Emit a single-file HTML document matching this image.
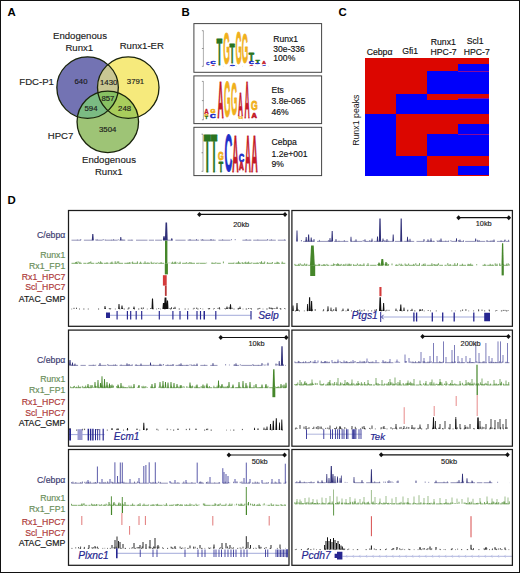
<!DOCTYPE html>
<html><head><meta charset="utf-8"><style>
html,body{margin:0;padding:0;background:#fff;width:520px;height:573px;overflow:hidden}
svg{display:block}
text{font-family:"Liberation Sans",sans-serif}
</style></head><body>
<svg width="520" height="573" viewBox="0 0 520 573">
<rect width="520" height="573" fill="#fff"/>
<rect x="0.5" y="0.5" width="519" height="572" fill="none" stroke="#111" stroke-width="1"/>
<text x="7.6" y="16.25" font-size="11.4" font-weight="bold" fill="#000">A</text>
<text x="181.4" y="16.25" font-size="11.4" font-weight="bold" fill="#000">B</text>
<text x="338.4" y="16.4" font-size="11.4" font-weight="bold" fill="#000">C</text>
<text x="7.4" y="203.7" font-size="11.4" font-weight="bold" fill="#000">D</text>
<defs><clipPath id="cB"><circle cx="87.6" cy="87.6" r="30.75"/></clipPath><clipPath id="cY"><circle cx="128.25" cy="87.6" r="30.75"/></clipPath><clipPath id="cG"><circle cx="107.8" cy="121.8" r="30.75"/></clipPath></defs>
<circle cx="87.6" cy="87.6" r="30.75" fill="#7373b3"/>
<circle cx="128.25" cy="87.6" r="30.75" fill="#f6ea7c"/>
<circle cx="107.8" cy="121.8" r="30.75" fill="#9ec476"/>
<g clip-path="url(#cB)"><circle cx="128.25" cy="87.6" r="30.75" fill="#c9c793"/></g>
<g clip-path="url(#cB)"><circle cx="107.8" cy="121.8" r="30.75" fill="#7bbb83"/></g>
<g clip-path="url(#cY)"><circle cx="107.8" cy="121.8" r="30.75" fill="#a9cd5c"/></g>
<g clip-path="url(#cB)"><g clip-path="url(#cY)"><circle cx="107.8" cy="121.8" r="30.75" fill="#88c163"/></g></g>
<circle cx="87.6" cy="87.6" r="30.75" fill="none" stroke="#1a240c" stroke-width="1.3"/>
<circle cx="128.25" cy="87.6" r="30.75" fill="none" stroke="#1a240c" stroke-width="1.3"/>
<circle cx="107.8" cy="121.8" r="30.75" fill="none" stroke="#1a240c" stroke-width="1.3"/>
<text x="80" y="39.25" font-size="9.6" fill="#222" stroke="#222" stroke-width="0.15" text-anchor="middle" >Endogenous</text>
<text x="79.3" y="50.75" font-size="9.6" fill="#222" stroke="#222" stroke-width="0.15" text-anchor="middle" >Runx1</text>
<text x="141.8" y="49.25" font-size="9.6" fill="#222" stroke="#222" stroke-width="0.15" text-anchor="middle" >Runx1-ER</text>
<text x="36.6" y="84.5" font-size="9.6" fill="#222" stroke="#222" stroke-width="0.15" text-anchor="middle" >FDC-P1</text>
<text x="60.6" y="138.75" font-size="9.6" fill="#222" stroke="#222" stroke-width="0.15" text-anchor="middle" >HPC7</text>
<text x="109" y="163" font-size="9.6" fill="#222" stroke="#222" stroke-width="0.15" text-anchor="middle" >Endogenous</text>
<text x="108.8" y="175" font-size="9.6" fill="#222" stroke="#222" stroke-width="0.15" text-anchor="middle" >Runx1</text>
<text x="81" y="83.75" font-size="7.8" fill="#1a1a1a" stroke="#1a1a1a" stroke-width="0.15" text-anchor="middle" >640</text>
<text x="108.7" y="84.5" font-size="7.8" fill="#1a1a1a" stroke="#1a1a1a" stroke-width="0.15" text-anchor="middle" >1430</text>
<text x="135.5" y="83.75" font-size="7.8" fill="#1a1a1a" stroke="#1a1a1a" stroke-width="0.15" text-anchor="middle" >3791</text>
<text x="107.9" y="100.5" font-size="7.8" fill="#1a1a1a" stroke="#1a1a1a" stroke-width="0.15" text-anchor="middle" >857</text>
<text x="91" y="110.75" font-size="7.8" fill="#1a1a1a" stroke="#1a1a1a" stroke-width="0.15" text-anchor="middle" >594</text>
<text x="124.6" y="110.75" font-size="7.8" fill="#1a1a1a" stroke="#1a1a1a" stroke-width="0.15" text-anchor="middle" >248</text>
<text x="107.7" y="132" font-size="7.8" fill="#1a1a1a" stroke="#1a1a1a" stroke-width="0.15" text-anchor="middle" >3504</text>
<rect x="193.9" y="23.6" width="127.70000000000002" height="48.699999999999996" fill="#fff" stroke="#444" stroke-width="1"/>
<rect x="193.9" y="75.9" width="127.70000000000002" height="47.69999999999999" fill="#fff" stroke="#444" stroke-width="1"/>
<rect x="193.9" y="127.3" width="127.70000000000002" height="48.3" fill="#fff" stroke="#444" stroke-width="1"/>
<text x="273.3" y="41.6" font-size="8.6" fill="#111" stroke="#111" stroke-width="0.15" text-anchor="start" >Runx1</text>
<text x="273.3" y="51.5" font-size="8.6" fill="#111" stroke="#111" stroke-width="0.15" text-anchor="start" >30e-336</text>
<text x="273.3" y="61.2" font-size="8.6" fill="#111" stroke="#111" stroke-width="0.15" text-anchor="start" >100%</text>
<text x="271.5" y="92.6" font-size="8.6" fill="#111" stroke="#111" stroke-width="0.15" text-anchor="start" >Ets</text>
<text x="271.5" y="103.8" font-size="8.6" fill="#111" stroke="#111" stroke-width="0.15" text-anchor="start" >3.8e-065</text>
<text x="271.5" y="114.8" font-size="8.6" fill="#111" stroke="#111" stroke-width="0.15" text-anchor="start" >46%</text>
<text x="271.5" y="144.6" font-size="8.6" fill="#111" stroke="#111" stroke-width="0.15" text-anchor="start" >Cebpa</text>
<text x="271.5" y="156.8" font-size="8.6" fill="#111" stroke="#111" stroke-width="0.15" text-anchor="start" >1.2e+001</text>
<text x="271.5" y="167.2" font-size="8.6" fill="#111" stroke="#111" stroke-width="0.15" text-anchor="start" >9%</text>
<path d="M203.4 30.7 V66.3" stroke="#777" stroke-width="0.6" fill="none"/>
<path d="M203.4 66.3 H270" stroke="#aaa" stroke-width="0.4" stroke-dasharray="0.6 5.9" fill="none"/>
<path d="M201.9 30.7 H203.4" stroke="#555" stroke-width="0.6"/>
<path d="M201.9 48.5 H203.4" stroke="#555" stroke-width="0.6"/>
<path d="M201.9 66.3 H203.4" stroke="#555" stroke-width="0.6"/>
<text transform="translate(206.30,65.30) scale(0.0436,0.0275)" font-size="100" font-weight="bold" fill="#1f2fc8" stroke="#1f2fc8" stroke-width="0.35" vector-effect="non-scaling-stroke" stroke-linejoin="round">C</text>
<text transform="translate(210.56,63.62) scale(0.0704,0.0325)" font-size="100" font-weight="bold" fill="#1f2fc8" stroke="#1f2fc8" stroke-width="0.7" vector-effect="non-scaling-stroke" stroke-linejoin="round">C</text>
<text transform="translate(211.56,65.83) scale(0.0470,0.0240)" font-size="100" font-weight="bold" fill="#c41a28" stroke="#c41a28" stroke-width="0.35" vector-effect="non-scaling-stroke" stroke-linejoin="round">A</text>
<text transform="translate(216.54,64.95) scale(0.0951,0.3779)" font-size="100" font-weight="bold" fill="#2a7420" stroke="#2a7420" stroke-width="0.7" vector-effect="non-scaling-stroke" stroke-linejoin="round">T</text>
<text transform="translate(223.30,64.22) scale(0.0860,0.4379)" font-size="100" font-weight="bold" fill="#f0b01c" stroke="#f0b01c" stroke-width="0.7" vector-effect="non-scaling-stroke" stroke-linejoin="round">G</text>
<text transform="translate(229.55,63.25) scale(0.0866,0.2762)" font-size="100" font-weight="bold" fill="#2a7420" stroke="#2a7420" stroke-width="0.7" vector-effect="non-scaling-stroke" stroke-linejoin="round">T</text>
<text transform="translate(229.88,65.63) scale(0.0658,0.0240)" font-size="100" font-weight="bold" fill="#1f2fc8" stroke="#1f2fc8" stroke-width="0.7" vector-effect="non-scaling-stroke" stroke-linejoin="round">C</text>
<text transform="translate(235.62,64.20) scale(0.0815,0.4590)" font-size="100" font-weight="bold" fill="#f0b01c" stroke="#f0b01c" stroke-width="0.7" vector-effect="non-scaling-stroke" stroke-linejoin="round">G</text>
<text transform="translate(241.81,62.73) scale(0.0830,0.4308)" font-size="100" font-weight="bold" fill="#f0b01c" stroke="#f0b01c" stroke-width="0.7" vector-effect="non-scaling-stroke" stroke-linejoin="round">G</text>
<text transform="translate(248.75,61.15) scale(0.0866,0.1134)" font-size="100" font-weight="bold" fill="#2a7420" stroke="#2a7420" stroke-width="0.7" vector-effect="non-scaling-stroke" stroke-linejoin="round">T</text>
<text transform="translate(249.08,63.62) scale(0.0658,0.0297)" font-size="100" font-weight="bold" fill="#1f2fc8" stroke="#1f2fc8" stroke-width="0.7" vector-effect="non-scaling-stroke" stroke-linejoin="round">C</text>
<text transform="translate(249.54,65.83) scale(0.0544,0.0240)" font-size="100" font-weight="bold" fill="#c41a28" stroke="#c41a28" stroke-width="0.35" vector-effect="non-scaling-stroke" stroke-linejoin="round">A</text>
<text transform="translate(255.57,62.65) scale(0.0696,0.0436)" font-size="100" font-weight="bold" fill="#2a7420" stroke="#2a7420" stroke-width="0.7" vector-effect="non-scaling-stroke" stroke-linejoin="round">T</text>
<text transform="translate(255.08,64.43) scale(0.0658,0.0212)" font-size="100" font-weight="bold" fill="#1f2fc8" stroke="#1f2fc8" stroke-width="0.7" vector-effect="non-scaling-stroke" stroke-linejoin="round">C</text>
<text transform="translate(262.04,64.33) scale(0.0544,0.0342)" font-size="100" font-weight="bold" fill="#c41a28" stroke="#c41a28" stroke-width="0.35" vector-effect="non-scaling-stroke" stroke-linejoin="round">A</text>
<text transform="translate(262.51,65.81) scale(0.0405,0.0162)" font-size="100" font-weight="bold" fill="#1f2fc8" stroke="#1f2fc8" stroke-width="0.35" vector-effect="non-scaling-stroke" stroke-linejoin="round">C</text>
<path d="M203.4 81.4 V119.8" stroke="#777" stroke-width="0.6" fill="none"/>
<path d="M203.4 119.8 H262" stroke="#aaa" stroke-width="0.4" stroke-dasharray="0.6 5.9" fill="none"/>
<path d="M201.9 81.4 H203.4" stroke="#555" stroke-width="0.6"/>
<path d="M201.9 100.6 H203.4" stroke="#555" stroke-width="0.6"/>
<path d="M201.9 119.8 H203.4" stroke="#555" stroke-width="0.6"/>
<text transform="translate(204.22,114.03) scale(0.0619,0.0705)" font-size="100" font-weight="bold" fill="#c41a28" stroke="#c41a28" stroke-width="0.35" vector-effect="non-scaling-stroke" stroke-linejoin="round">A</text>
<text transform="translate(204.45,116.79) scale(0.0541,0.0346)" font-size="100" font-weight="bold" fill="#f0b01c" stroke="#f0b01c" stroke-width="0.35" vector-effect="non-scaling-stroke" stroke-linejoin="round">G</text>
<text transform="translate(205.12,119.33) scale(0.0450,0.0313)" font-size="100" font-weight="bold" fill="#2a7420" stroke="#2a7420" stroke-width="0.35" vector-effect="non-scaling-stroke" stroke-linejoin="round">T</text>
<text transform="translate(210.59,113.09) scale(0.0637,0.0607)" font-size="100" font-weight="bold" fill="#f0b01c" stroke="#f0b01c" stroke-width="0.7" vector-effect="non-scaling-stroke" stroke-linejoin="round">G</text>
<text transform="translate(210.02,118.00) scale(0.0811,0.0494)" font-size="100" font-weight="bold" fill="#1f2fc8" stroke="#1f2fc8" stroke-width="0.7" vector-effect="non-scaling-stroke" stroke-linejoin="round">C</text>
<text transform="translate(217.54,118.35) scale(0.0850,0.5247)" font-size="100" font-weight="bold" fill="#c41a28" stroke="#c41a28" stroke-width="0.7" vector-effect="non-scaling-stroke" stroke-linejoin="round">A</text>
<text transform="translate(224.00,117.47) scale(0.0845,0.4915)" font-size="100" font-weight="bold" fill="#f0b01c" stroke="#f0b01c" stroke-width="0.7" vector-effect="non-scaling-stroke" stroke-linejoin="round">G</text>
<text transform="translate(231.02,115.40) scale(0.0815,0.4562)" font-size="100" font-weight="bold" fill="#f0b01c" stroke="#f0b01c" stroke-width="0.7" vector-effect="non-scaling-stroke" stroke-linejoin="round">G</text>
<text transform="translate(238.08,116.25) scale(0.0686,0.3314)" font-size="100" font-weight="bold" fill="#c41a28" stroke="#c41a28" stroke-width="0.7" vector-effect="non-scaling-stroke" stroke-linejoin="round">A</text>
<text transform="translate(238.44,118.60) scale(0.0585,0.0261)" font-size="100" font-weight="bold" fill="#f0b01c" stroke="#f0b01c" stroke-width="0.35" vector-effect="non-scaling-stroke" stroke-linejoin="round">G</text>
<text transform="translate(244.47,118.35) scale(0.0715,0.5189)" font-size="100" font-weight="bold" fill="#c41a28" stroke="#c41a28" stroke-width="0.7" vector-effect="non-scaling-stroke" stroke-linejoin="round">A</text>
<text transform="translate(250.90,110.13) scale(0.0860,0.1271)" font-size="100" font-weight="bold" fill="#f0b01c" stroke="#f0b01c" stroke-width="0.7" vector-effect="non-scaling-stroke" stroke-linejoin="round">G</text>
<text transform="translate(251.46,118.35) scale(0.0745,0.0785)" font-size="100" font-weight="bold" fill="#c41a28" stroke="#c41a28" stroke-width="0.7" vector-effect="non-scaling-stroke" stroke-linejoin="round">A</text>
<path d="M203.0 134.2 V171.3" stroke="#777" stroke-width="0.6" fill="none"/>
<path d="M203.0 171.3 H262" stroke="#aaa" stroke-width="0.4" stroke-dasharray="0.6 5.9" fill="none"/>
<path d="M201.5 134.2 H203.0" stroke="#555" stroke-width="0.6"/>
<path d="M201.5 152.75 H203.0" stroke="#555" stroke-width="0.6"/>
<path d="M201.5 171.3 H203.0" stroke="#555" stroke-width="0.6"/>
<text transform="translate(203.72,171.65) scale(0.1155,0.5363)" font-size="100" font-weight="bold" fill="#2a7420" stroke="#2a7420" stroke-width="0.7" vector-effect="non-scaling-stroke" stroke-linejoin="round">T</text>
<text transform="translate(210.63,171.65) scale(0.1070,0.5363)" font-size="100" font-weight="bold" fill="#2a7420" stroke="#2a7420" stroke-width="0.7" vector-effect="non-scaling-stroke" stroke-linejoin="round">T</text>
<text transform="translate(217.95,160.15) scale(0.0741,0.1017)" font-size="100" font-weight="bold" fill="#f0b01c" stroke="#f0b01c" stroke-width="0.7" vector-effect="non-scaling-stroke" stroke-linejoin="round">G</text>
<text transform="translate(218.67,171.65) scale(0.0713,0.1453)" font-size="100" font-weight="bold" fill="#2a7420" stroke="#2a7420" stroke-width="0.7" vector-effect="non-scaling-stroke" stroke-linejoin="round">T</text>
<text transform="translate(224.50,171.15) scale(0.1086,0.5127)" font-size="100" font-weight="bold" fill="#1f2fc8" stroke="#1f2fc8" stroke-width="0.7" vector-effect="non-scaling-stroke" stroke-linejoin="round">C</text>
<text transform="translate(232.13,171.65) scale(0.0879,0.5247)" font-size="100" font-weight="bold" fill="#c41a28" stroke="#c41a28" stroke-width="0.7" vector-effect="non-scaling-stroke" stroke-linejoin="round">A</text>
<text transform="translate(238.64,161.54) scale(0.0765,0.1130)" font-size="100" font-weight="bold" fill="#1f2fc8" stroke="#1f2fc8" stroke-width="0.7" vector-effect="non-scaling-stroke" stroke-linejoin="round">C</text>
<text transform="translate(239.08,170.15) scale(0.0671,0.1061)" font-size="100" font-weight="bold" fill="#c41a28" stroke="#c41a28" stroke-width="0.7" vector-effect="non-scaling-stroke" stroke-linejoin="round">A</text>
<text transform="translate(244.95,171.65) scale(0.0805,0.5247)" font-size="100" font-weight="bold" fill="#c41a28" stroke="#c41a28" stroke-width="0.7" vector-effect="non-scaling-stroke" stroke-linejoin="round">A</text>
<text transform="translate(251.33,171.65) scale(0.0894,0.5247)" font-size="100" font-weight="bold" fill="#c41a28" stroke="#c41a28" stroke-width="0.7" vector-effect="non-scaling-stroke" stroke-linejoin="round">A</text>
<g shape-rendering="crispEdges">
<rect x="364.7" y="57.6" width="124.30" height="118.40" fill="#dc0600"/>
<rect x="364.7" y="114.4" width="31.10" height="61.60" fill="#0000fb"/>
<rect x="395.8" y="94" width="30.70" height="20.40" fill="#0000fb"/>
<rect x="395.8" y="155.9" width="30.70" height="20.10" fill="#0000fb"/>
<rect x="426.5" y="70.9" width="31.30" height="23.50" fill="#0000fb"/>
<rect x="426.5" y="100.3" width="31.30" height="13.90" fill="#0000fb"/>
<rect x="426.5" y="133.8" width="31.30" height="22.10" fill="#0000fb"/>
<rect x="457.8" y="64.3" width="31.20" height="6.30" fill="#0000fb"/>
<rect x="457.8" y="70.6" width="31.20" height="1.40" fill="#8a0a9a"/>
<rect x="457.8" y="72.0" width="31.20" height="22.20" fill="#0000fb"/>
<rect x="457.8" y="98.0" width="31.20" height="1.20" fill="#8a0a9a"/>
<rect x="457.8" y="99.2" width="31.20" height="15.00" fill="#0000fb"/>
<rect x="457.8" y="123.7" width="31.20" height="10.30" fill="#0000fb"/>
<rect x="457.8" y="134.0" width="31.20" height="1.40" fill="#8a0a9a"/>
<rect x="457.8" y="135.4" width="31.20" height="20.50" fill="#0000fb"/>
<rect x="457.8" y="165.5" width="31.20" height="9.40" fill="#0000fb"/>
</g>
<text x="379.6" y="54.6" font-size="8.7" fill="#111" stroke="#111" stroke-width="0.15" text-anchor="middle" >Cebp&#945;</text>
<text x="410.1" y="53.7" font-size="8.7" fill="#111" stroke="#111" stroke-width="0.15" text-anchor="middle" >Gfi1</text>
<text x="443.3" y="44.8" font-size="8.7" fill="#111" stroke="#111" stroke-width="0.15" text-anchor="middle" >Runx1</text>
<text x="443.6" y="55.3" font-size="8.7" fill="#111" stroke="#111" stroke-width="0.15" text-anchor="middle" >HPC-7</text>
<text x="475.2" y="43.9" font-size="8.7" fill="#111" stroke="#111" stroke-width="0.15" text-anchor="middle" >Scl1</text>
<text x="476.7" y="55.3" font-size="8.7" fill="#111" stroke="#111" stroke-width="0.15" text-anchor="middle" >HPC-7</text>
<text transform="translate(359.3,120.2) rotate(-90)" font-size="8.8" fill="#111" text-anchor="middle">Runx1 peaks</text>
<text x="65.3" y="237.8" font-size="8.7" fill="#3c3c70" text-anchor="end" stroke="#3c3c70" stroke-width="0.18">C/ebp&#945;</text>
<text x="65.3" y="257.6" font-size="8.7" fill="#6b8f5a" text-anchor="end" stroke="#6b8f5a" stroke-width="0.18">Runx1</text>
<text x="65.3" y="268.6" font-size="8.7" fill="#6b8f5a" text-anchor="end" stroke="#6b8f5a" stroke-width="0.18">Rx1_FP1</text>
<text x="65.3" y="279.6" font-size="8.7" fill="#ae3a3a" text-anchor="end" stroke="#ae3a3a" stroke-width="0.18">Rx1_HPC7</text>
<text x="65.3" y="290.4" font-size="8.7" fill="#ae3a3a" text-anchor="end" stroke="#ae3a3a" stroke-width="0.18">Scl_HPC7</text>
<text x="65.3" y="302.1" font-size="8.7" fill="#1a1a1a" text-anchor="end" stroke="#1a1a1a" stroke-width="0.18">ATAC_GMP</text>
<text x="65.3" y="362.5" font-size="8.7" fill="#3c3c70" text-anchor="end" stroke="#3c3c70" stroke-width="0.18">C/ebp&#945;</text>
<text x="65.3" y="381.8" font-size="8.7" fill="#6b8f5a" text-anchor="end" stroke="#6b8f5a" stroke-width="0.18">Runx1</text>
<text x="65.3" y="392.5" font-size="8.7" fill="#6b8f5a" text-anchor="end" stroke="#6b8f5a" stroke-width="0.18">Rx1_FP1</text>
<text x="65.3" y="405.4" font-size="8.7" fill="#ae3a3a" text-anchor="end" stroke="#ae3a3a" stroke-width="0.18">Rx1_HPC7</text>
<text x="65.3" y="415.9" font-size="8.7" fill="#ae3a3a" text-anchor="end" stroke="#ae3a3a" stroke-width="0.18">Scl_HPC7</text>
<text x="65.3" y="426.1" font-size="8.7" fill="#1a1a1a" text-anchor="end" stroke="#1a1a1a" stroke-width="0.18">ATAC_GMP</text>
<text x="65.3" y="482.5" font-size="8.7" fill="#3c3c70" text-anchor="end" stroke="#3c3c70" stroke-width="0.18">C/ebp&#945;</text>
<text x="65.3" y="501.4" font-size="8.7" fill="#6b8f5a" text-anchor="end" stroke="#6b8f5a" stroke-width="0.18">Runx1</text>
<text x="65.3" y="512.1" font-size="8.7" fill="#6b8f5a" text-anchor="end" stroke="#6b8f5a" stroke-width="0.18">Rx1_FP1</text>
<text x="65.3" y="524.9" font-size="8.7" fill="#ae3a3a" text-anchor="end" stroke="#ae3a3a" stroke-width="0.18">Rx1_HPC7</text>
<text x="65.3" y="535.6" font-size="8.7" fill="#ae3a3a" text-anchor="end" stroke="#ae3a3a" stroke-width="0.18">Scl_HPC7</text>
<text x="65.3" y="545.8" font-size="8.7" fill="#1a1a1a" text-anchor="end" stroke="#1a1a1a" stroke-width="0.18">ATAC_GMP</text>
<path d="M71.5 240.2 H81.0 M83.9 240.2 H93.5 M95.7 240.2 H102.6 M104.8 240.2 H117.7 M119.3 240.2 H125.3 M127.6 240.2 H133.1 M136.0 240.2 H147.5 M148.8 240.2 H154.0 M155.1 240.2 H162.0 M163.1 240.2 H172.7 M175.4 240.2 H185.6 M187.6 240.2 H199.2 M200.8 240.2 H215.7 M218.4 240.2 H230.5 M242.4 240.2 H251.4 M253.2 240.2 H267.7 M268.7 240.2 H275.8 M277.8 240.2 H286.0" stroke="#303078" stroke-width="0.65" opacity="0.8" fill="none"/>
<path d="M77.4 240.2 v-0.5 M80.8 240.2 v-1.0 M95.4 240.2 v-0.5 M97.1 240.2 v-0.9 M103.2 240.2 v-1.1 M105.1 240.2 v-0.6 M111.5 240.2 v-0.4 M113.6 240.2 v-1.0 M118.3 240.2 v-0.8 M122.6 240.2 v-0.6 M124.0 240.2 v-0.5 M131.7 240.2 v-0.4 M165.8 240.2 v-1.0 M172.0 240.2 v-0.5 M189.3 240.2 v-0.8 M190.5 240.2 v-0.7 M196.5 240.2 v-1.1 M200.8 240.2 v-0.5 M202.3 240.2 v-1.1 M203.4 240.2 v-0.4 M210.5 240.2 v-0.8 M211.5 240.2 v-0.8 M213.3 240.2 v-0.6 M222.6 240.2 v-0.8 M231.5 240.2 v-1.0 M235.2 240.2 v-1.1 M246.2 240.2 v-1.0 M250.0 240.2 v-0.5 M257.8 240.2 v-0.6 M267.6 240.2 v-1.1 M271.4 240.2 v-0.8 M284.5 240.2 v-0.7" stroke="#303078" stroke-width="0.8" opacity="0.8" fill="none"/>
<path d="M91.80 240.2 L92.25 233.9 L93.35 233.9 L93.80 240.2Z M120.00 240.2 L120.36 237.0 L121.24 237.0 L121.60 240.2Z M164.90 240.2 L165.53 222.4 L167.07 222.4 L167.70 240.2Z M162.80 240.2 L163.34 236.3 L164.66 236.3 L165.20 240.2Z M171.00 240.2 L171.36 238.2 L172.24 238.2 L172.60 240.2Z" fill="#303078"/>
<path d="M71.5 263.3 H78.0 M78.9 263.3 H81.8 M83.3 263.3 H86.0 M86.5 263.3 H89.5 M90.7 263.3 H94.3 M95.5 263.3 H98.0 M98.7 263.3 H103.2 M103.9 263.3 H108.6 M109.5 263.3 H113.6 M114.3 263.3 H117.3 M118.5 263.3 H123.1 M124.3 263.3 H130.6 M131.9 263.3 H138.0 M138.8 263.3 H142.4 M143.1 263.3 H150.1 M150.8 263.3 H153.9 M154.7 263.3 H157.2 M158.2 263.3 H164.1 M171.2 263.3 H176.6 M178.2 263.3 H180.8 M182.1 263.3 H186.6 M187.3 263.3 H189.7 M190.2 263.3 H195.0 M196.1 263.3 H198.8 M199.6 263.3 H205.8 M211.3 263.3 H215.6 M216.5 263.3 H220.8 M228.1 263.3 H234.3 M235.3 263.3 H241.0 M241.7 263.3 H244.5 M245.0 263.3 H251.5 M252.8 263.3 H259.1 M260.0 263.3 H265.0 M266.6 263.3 H272.6 M274.1 263.3 H279.9 M281.3 263.3 H285.3" stroke="#45862a" stroke-width="0.75" opacity="0.9" fill="none"/>
<path d="M75.6 263.3 v-1.2 M76.5 263.3 v-1.5 M78.1 263.3 v-2.0 M79.9 263.3 v-1.5 M89.0 263.3 v-1.1 M89.9 263.3 v-1.1 M90.8 263.3 v-1.9 M98.7 263.3 v-1.4 M100.6 263.3 v-2.0 M101.6 263.3 v-0.8 M107.0 263.3 v-1.0 M111.1 263.3 v-0.9 M112.0 263.3 v-1.7 M115.2 263.3 v-2.1 M117.3 263.3 v-1.9 M118.7 263.3 v-2.0 M127.7 263.3 v-0.6 M129.3 263.3 v-1.2 M131.0 263.3 v-0.9 M132.6 263.3 v-1.7 M137.4 263.3 v-1.9 M140.6 263.3 v-1.6 M145.0 263.3 v-2.0 M147.9 263.3 v-0.9 M151.2 263.3 v-1.6 M154.1 263.3 v-0.8 M157.3 263.3 v-0.7 M161.1 263.3 v-1.2 M165.8 263.3 v-1.4 M169.0 263.3 v-0.7 M171.1 263.3 v-0.6 M172.6 263.3 v-1.6 M174.8 263.3 v-1.5 M175.7 263.3 v-1.6 M177.5 263.3 v-0.7 M180.1 263.3 v-1.6 M186.4 263.3 v-1.1 M189.7 263.3 v-1.1 M191.0 263.3 v-1.1 M199.0 263.3 v-0.5 M206.6 263.3 v-0.6 M212.1 263.3 v-0.8 M215.8 263.3 v-1.0 M223.4 263.3 v-1.8 M234.0 263.3 v-0.7 M237.1 263.3 v-0.8 M238.5 263.3 v-2.0 M239.4 263.3 v-0.7 M242.2 263.3 v-1.2 M244.6 263.3 v-0.8 M245.7 263.3 v-1.6 M247.4 263.3 v-0.8 M248.6 263.3 v-1.7 M251.8 263.3 v-0.9 M257.2 263.3 v-0.8 M260.0 263.3 v-1.3 M261.5 263.3 v-2.1 M263.2 263.3 v-0.5 M264.7 263.3 v-1.8 M267.5 263.3 v-1.0 M272.4 263.3 v-1.3 M277.1 263.3 v-1.6 M278.1 263.3 v-1.2 M282.2 263.3 v-1.7" stroke="#45862a" stroke-width="0.8" opacity="0.9" fill="none"/>
<rect x="165.0" y="240.6" width="2.40" height="22.80" fill="#45862a" opacity="1"/>
<rect x="164.8" y="263.4" width="3.10" height="11.00" fill="#45862a" opacity="1"/>
<rect x="162.9" y="275.2" width="3.80" height="10.40" fill="#d43a3a" opacity="1"/>
<rect x="164.9" y="285.6" width="1.80" height="10.30" fill="#b83838" opacity="1"/>
<path d="M71.5 309.0 H72.1 M79.1 309.0 H80.0 M83.3 309.0 H84.4 M87.8 309.0 H88.7 M98.0 309.0 H99.1 M109.5 309.0 H110.7 M114.9 309.0 H115.6 M119.5 309.0 H120.3 M123.7 309.0 H124.8 M127.5 309.0 H128.6 M133.9 309.0 H134.9 M138.1 309.0 H139.3 M141.8 309.0 H142.4 M146.9 309.0 H147.5 M152.5 309.0 H153.5 M156.3 309.0 H156.9 M160.4 309.0 H160.9 M164.4 309.0 H165.4 M170.1 309.0 H171.3 M178.7 309.0 H179.9 M184.6 309.0 H185.7 M187.8 309.0 H188.6 M192.9 309.0 H193.5 M197.3 309.0 H198.5 M202.6 309.0 H203.2 M208.4 309.0 H209.4 M213.1 309.0 H213.8 M219.2 309.0 H220.2 M225.1 309.0 H225.8 M230.0 309.0 H230.7 M233.5 309.0 H234.5 M237.7 309.0 H239.0 M242.7 309.0 H243.3 M245.7 309.0 H247.1 M251.0 309.0 H252.0 M257.2 309.0 H258.6 M262.7 309.0 H263.3 M266.3 309.0 H267.6 M271.6 309.0 H272.9 M280.0 309.0 H281.4 M285.7 309.0 H286.0" stroke="#111" stroke-width="0.8" opacity="0.9" fill="none"/>
<path d="M74.0 309.0 v-1.2 M76.5 309.0 v-1.3 M105.4 309.0 v-1.1 M109.3 309.0 v-0.9 M110.7 309.0 v-0.6 M122.6 309.0 v-0.9 M128.9 309.0 v-1.8 M133.7 309.0 v-0.9 M141.4 309.0 v-1.4 M143.3 309.0 v-1.6 M150.6 309.0 v-0.9 M152.4 309.0 v-0.8 M158.7 309.0 v-0.9 M165.9 309.0 v-1.4 M167.1 309.0 v-1.7 M169.9 309.0 v-0.9 M171.5 309.0 v-1.8 M173.6 309.0 v-1.2 M194.1 309.0 v-1.2 M196.7 309.0 v-1.4 M200.5 309.0 v-0.7 M208.3 309.0 v-0.7 M209.6 309.0 v-1.0 M214.4 309.0 v-0.7 M218.0 309.0 v-1.1 M219.4 309.0 v-1.9 M224.9 309.0 v-0.8 M227.0 309.0 v-1.1 M229.1 309.0 v-1.9 M232.1 309.0 v-1.3 M238.3 309.0 v-1.1 M240.0 309.0 v-1.0 M248.7 309.0 v-1.0 M250.8 309.0 v-0.8 M258.7 309.0 v-0.5 M259.8 309.0 v-1.1 M269.3 309.0 v-1.8 M272.1 309.0 v-1.1 M273.2 309.0 v-0.7 M274.9 309.0 v-1.0 M280.2 309.0 v-0.8 M284.7 309.0 v-0.9" stroke="#111" stroke-width="0.8" opacity="0.9" fill="none"/>
<path d="M151.50 309.0 L151.95 298.5 L153.05 298.5 L153.50 309.0Z M162.40 309.0 L162.94 303 L164.26 303 L164.80 309.0Z M163.90 309.0 L164.62 297.6 L166.38 297.6 L167.10 309.0Z M166.50 309.0 L166.95 300.5 L168.05 300.5 L168.50 309.0Z M118.20 309.0 L118.56 304 L119.44 304 L119.80 309.0Z M121.20 309.0 L121.56 305.5 L122.44 305.5 L122.80 309.0Z M104.30 309.0 L104.61 306 L105.39 306 L105.70 309.0Z M229.60 309.0 L230.00 304.2 L231.00 304.2 L231.40 309.0Z M226.30 309.0 L226.62 306.5 L227.38 306.5 L227.70 309.0Z M239.40 309.0 L239.67 306.5 L240.33 306.5 L240.60 309.0Z M133.30 309.0 L133.62 306.5 L134.38 306.5 L134.70 309.0Z M174.40 309.0 L174.67 306.8 L175.33 306.8 L175.60 309.0Z M276.40 309.0 L276.67 306.8 L277.33 306.8 L277.60 309.0Z M270.40 309.0 L270.67 307.5 L271.33 307.5 L271.60 309.0Z" fill="#111"/>
<path d="M106 315.3 H251" stroke="#8c94d0" stroke-width="0.8"/>
<path d="M106 312.50 H110 V318.10 H106Z M116.52 311.00 h1.15 v8.60 h-1.15Z M126.83 311.00 h1.15 v8.60 h-1.15Z M130.12 311.00 h1.15 v8.60 h-1.15Z M135.62 311.00 h1.15 v8.60 h-1.15Z M141.12 311.00 h1.15 v8.60 h-1.15Z M158.73 311.00 h1.15 v8.60 h-1.15Z M172.33 311.00 h1.15 v8.60 h-1.15Z M179.43 311.00 h1.15 v8.60 h-1.15Z M187.03 311.00 h1.15 v8.60 h-1.15Z M196.43 311.00 h1.15 v8.60 h-1.15Z M199.93 311.00 h1.15 v8.60 h-1.15Z M203.5 311.00 H205 V319.60 H203.5Z M215.23 311.00 h1.15 v8.60 h-1.15Z M250.43 311.00 h1.15 v8.60 h-1.15Z" fill="#262690"/>
<text x="258.2" y="319.3" font-size="10.3" font-style="italic" fill="#262690" stroke="#262690" stroke-width="0.2" text-anchor="start">Selp</text>
<path d="M199.4 214.4 H285.0" stroke="#111" stroke-width="1.2"/>
<path d="M197.1 214.4 L199.4 211.9 L201.70000000000002 214.4 L199.4 216.9Z" fill="#111"/>
<path d="M282.7 214.4 L285.0 211.9 L287.3 214.4 L285.0 216.9Z" fill="#111"/>
<text x="241.2" y="226.5" font-size="7.4" fill="#222" text-anchor="middle"  stroke="#222" stroke-width="0.15">20kb</text>
<rect x="68.5" y="210.5" width="220.50" height="115.80" fill="none" stroke="#1c1c1c" stroke-width="1.25"/>
<path d="M303.1 241.4 H314.4 M317.0 241.4 H331.8 M334.1 241.4 H348.3 M350.7 241.4 H362.4 M365.1 241.4 H372.4 M373.6 241.4 H382.9 M384.0 241.4 H392.9 M394.8 241.4 H402.6 M404.5 241.4 H414.2 M416.5 241.4 H423.9 M425.6 241.4 H434.8 M437.0 241.4 H449.0 M451.4 241.4 H456.6 M458.4 241.4 H464.0 M465.1 241.4 H475.1 M477.0 241.4 H485.3 M486.3 241.4 H494.8 M496.9 241.4 H504.5 M505.9 241.4 H509.4" stroke="#303078" stroke-width="0.65" opacity="0.8" fill="none"/>
<path d="M301.4 241.4 v-1.4 M305.5 241.4 v-0.6 M307.1 241.4 v-0.8 M309.2 241.4 v-0.6 M311.5 241.4 v-1.1 M312.8 241.4 v-1.0 M319.4 241.4 v-1.5 M328.4 241.4 v-1.3 M330.0 241.4 v-0.7 M331.2 241.4 v-1.0 M332.2 241.4 v-0.5 M339.0 241.4 v-0.7 M344.3 241.4 v-1.3 M354.3 241.4 v-0.6 M363.2 241.4 v-1.3 M364.2 241.4 v-0.7 M366.9 241.4 v-0.4 M369.8 241.4 v-1.4 M371.8 241.4 v-0.9 M379.3 241.4 v-0.6 M382.4 241.4 v-0.4 M384.0 241.4 v-1.2 M385.2 241.4 v-1.0 M386.5 241.4 v-0.5 M388.6 241.4 v-0.6 M403.6 241.4 v-0.4 M404.7 241.4 v-0.5 M408.0 241.4 v-1.6 M429.2 241.4 v-0.8 M431.0 241.4 v-1.3 M433.6 241.4 v-0.6 M437.1 241.4 v-1.0 M439.2 241.4 v-1.5 M445.7 241.4 v-0.7 M448.7 241.4 v-0.8 M450.9 241.4 v-1.2 M458.7 241.4 v-1.4 M463.5 241.4 v-1.1 M477.6 241.4 v-1.6 M479.1 241.4 v-1.4 M487.0 241.4 v-1.4 M490.4 241.4 v-0.7 M492.1 241.4 v-1.1 M500.7 241.4 v-0.8 M501.6 241.4 v-0.8 M504.6 241.4 v-0.9 M508.6 241.4 v-1.6" stroke="#303078" stroke-width="0.8" opacity="0.8" fill="none"/>
<path d="M296.20 241.4 L296.56 230.4 L297.44 230.4 L297.80 241.4Z M305.40 241.4 L305.76 237 L306.64 237 L307.00 241.4Z M307.70 241.4 L308.11 234.5 L309.10 234.5 L309.50 241.4Z M310.40 241.4 L310.76 237.5 L311.64 237.5 L312.00 241.4Z M313.40 241.4 L313.67 239 L314.33 239 L314.60 241.4Z M331.30 241.4 L331.70 231 L332.69 231 L333.10 241.4Z M329.30 241.4 L329.62 238 L330.38 238 L330.70 241.4Z M335.40 241.4 L335.67 239 L336.33 239 L336.60 241.4Z M350.30 241.4 L350.62 236.8 L351.38 236.8 L351.70 241.4Z M355.40 241.4 L355.67 239.2 L356.33 239.2 L356.60 241.4Z M364.40 241.4 L364.67 239.2 L365.33 239.2 L365.60 241.4Z M371.40 241.4 L371.67 238.6 L372.33 238.6 L372.60 241.4Z M378.90 241.4 L379.39 218.4 L380.61 218.4 L381.10 241.4Z M376.70 241.4 L377.06 236.5 L377.94 236.5 L378.30 241.4Z M382.30 241.4 L382.62 238.5 L383.38 238.5 L383.70 241.4Z M386.40 241.4 L386.67 239 L387.33 239 L387.60 241.4Z M392.40 241.4 L392.76 234.5 L393.64 234.5 L394.00 241.4Z M400.20 241.4 L400.65 218.6 L401.75 218.6 L402.20 241.4Z M406.80 241.4 L407.12 236.8 L407.88 236.8 L408.20 241.4Z M409.40 241.4 L409.67 238.8 L410.33 238.8 L410.60 241.4Z M423.40 241.4 L423.67 239 L424.33 239 L424.60 241.4Z M427.40 241.4 L427.67 239.3 L428.33 239.3 L428.60 241.4Z M430.40 241.4 L430.67 238.3 L431.33 238.3 L431.60 241.4Z M440.30 241.4 L440.62 238.5 L441.38 238.5 L441.70 241.4Z M455.80 241.4 L456.12 238.2 L456.88 238.2 L457.20 241.4Z M459.40 241.4 L459.67 239.5 L460.33 239.5 L460.60 241.4Z M475.00 241.4 L475.31 238.6 L476.08 238.6 L476.40 241.4Z M493.40 241.4 L493.67 239.6 L494.33 239.6 L494.60 241.4Z M504.40 241.4 L504.67 239.6 L505.33 239.6 L505.60 241.4Z" fill="#303078"/>
<path d="M294.9 265.3 H300.0 M301.3 265.3 H304.3 M305.3 265.3 H307.4 M308.2 265.3 H313.4 M314.5 265.3 H320.0 M320.7 265.3 H326.1 M326.8 265.3 H329.3 M330.5 265.3 H334.3 M335.9 265.3 H341.4 M342.3 265.3 H345.8 M346.5 265.3 H351.6 M353.0 265.3 H357.1 M358.1 265.3 H364.8 M366.1 265.3 H369.3 M370.1 265.3 H376.5 M377.9 265.3 H383.3 M384.8 265.3 H388.8 M395.1 265.3 H398.5 M400.1 265.3 H403.5 M404.8 265.3 H408.0 M408.6 265.3 H415.1 M416.1 265.3 H419.8 M421.2 265.3 H426.2 M426.8 265.3 H433.3 M434.2 265.3 H438.0 M439.3 265.3 H443.0 M444.5 265.3 H446.7 M447.7 265.3 H451.5 M452.3 265.3 H457.7 M459.3 265.3 H466.1 M467.1 265.3 H473.2 M482.5 265.3 H486.5 M487.2 265.3 H494.2 M495.1 265.3 H497.8 M499.1 265.3 H501.5 M502.7 265.3 H507.9 M508.6 265.3 H509.4" stroke="#45862a" stroke-width="0.75" opacity="0.9" fill="none"/>
<path d="M294.9 265.3 v-1.4 M298.7 265.3 v-1.5 M300.2 265.3 v-2.0 M301.4 265.3 v-0.7 M303.0 265.3 v-0.7 M304.6 265.3 v-1.9 M305.7 265.3 v-0.6 M306.8 265.3 v-1.5 M311.8 265.3 v-1.6 M315.1 265.3 v-0.8 M318.9 265.3 v-1.5 M319.7 265.3 v-1.1 M323.9 265.3 v-1.3 M324.8 265.3 v-0.7 M326.9 265.3 v-1.4 M333.6 265.3 v-1.9 M334.7 265.3 v-1.3 M336.2 265.3 v-1.3 M337.6 265.3 v-2.0 M338.5 265.3 v-1.5 M339.9 265.3 v-0.7 M341.2 265.3 v-1.4 M343.8 265.3 v-1.2 M345.9 265.3 v-1.6 M348.1 265.3 v-1.6 M349.4 265.3 v-1.6 M351.0 265.3 v-1.4 M353.4 265.3 v-1.0 M357.4 265.3 v-1.8 M360.2 265.3 v-1.1 M363.9 265.3 v-1.9 M368.0 265.3 v-2.2 M377.9 265.3 v-1.3 M378.9 265.3 v-1.9 M379.8 265.3 v-2.0 M381.5 265.3 v-0.7 M382.5 265.3 v-2.3 M385.1 265.3 v-1.5 M387.1 265.3 v-2.1 M388.6 265.3 v-1.3 M392.0 265.3 v-1.8 M396.4 265.3 v-0.8 M399.2 265.3 v-1.6 M401.2 265.3 v-1.6 M405.1 265.3 v-1.8 M406.7 265.3 v-0.6 M408.6 265.3 v-1.8 M413.7 265.3 v-1.4 M415.8 265.3 v-2.1 M419.5 265.3 v-2.2 M423.4 265.3 v-1.5 M425.0 265.3 v-1.9 M431.9 265.3 v-2.1 M433.7 265.3 v-1.0 M434.5 265.3 v-1.0 M435.7 265.3 v-0.7 M437.2 265.3 v-1.0 M438.4 265.3 v-2.1 M447.8 265.3 v-2.2 M450.2 265.3 v-1.2 M454.8 265.3 v-2.2 M457.5 265.3 v-2.2 M462.4 265.3 v-1.6 M468.1 265.3 v-1.5 M469.2 265.3 v-1.2 M470.7 265.3 v-1.8 M472.1 265.3 v-0.6 M476.7 265.3 v-1.1 M484.8 265.3 v-1.4 M490.2 265.3 v-1.5 M492.4 265.3 v-0.7 M495.2 265.3 v-2.0 M497.0 265.3 v-1.6 M499.7 265.3 v-2.0 M503.2 265.3 v-1.1 M506.7 265.3 v-1.7 M508.2 265.3 v-2.1 M509.2 265.3 v-1.0" stroke="#45862a" stroke-width="0.8" opacity="0.9" fill="none"/>
<path d="M310.00 265.3 L311.08 245.4 L313.72 245.4 L314.80 265.3Z" fill="#45862a"/>
<rect x="310.2" y="265.3" width="5.00" height="10.70" fill="#45862a" opacity="1"/>
<path d="M380.70 265.3 L381.42 259 L383.18 259 L383.90 265.3Z M385.00 265.3 L385.45 262 L386.55 262 L387.00 265.3Z M378.10 265.3 L378.50 262.5 L379.50 262.5 L379.90 265.3Z" fill="#45862a"/>
<path d="M501.50 265.3 L502.00 243.2 L503.21 243.2 L503.70 265.3Z" fill="#45862a"/>
<rect x="501.6" y="265.3" width="2.20" height="10.10" fill="#45862a" opacity="1"/>
<rect x="379.4" y="287.0" width="2.10" height="9.20" fill="#d43a3a" opacity="1"/>
<path d="M294.9 310.9 H296.1 M298.9 310.9 H300.0 M303.9 310.9 H304.6 M307.2 310.9 H307.9 M311.1 310.9 H312.2 M322.7 310.9 H323.4 M326.8 310.9 H328.2 M331.5 310.9 H332.8 M336.2 310.9 H336.8 M341.5 310.9 H342.3 M345.6 310.9 H346.4 M351.0 310.9 H351.9 M354.0 310.9 H354.9 M357.2 310.9 H358.5 M361.2 310.9 H362.5 M367.8 310.9 H368.6 M371.1 310.9 H372.2 M374.9 310.9 H375.5 M380.6 310.9 H381.7 M385.3 310.9 H386.2 M397.0 310.9 H397.7 M401.5 310.9 H402.5 M407.2 310.9 H408.1 M414.2 310.9 H415.4 M419.1 310.9 H419.8 M423.8 310.9 H424.5 M430.0 310.9 H430.9 M435.8 310.9 H436.7 M451.5 310.9 H452.2 M454.9 310.9 H455.4 M460.2 310.9 H461.2 M468.5 310.9 H469.1 M473.2 310.9 H474.1 M478.3 310.9 H479.1 M484.1 310.9 H485.2 M489.1 310.9 H490.0 M495.2 310.9 H495.9 M500.9 310.9 H502.2 M505.9 310.9 H507.3" stroke="#111" stroke-width="0.8" opacity="0.9" fill="none"/>
<path d="M298.2 310.9 v-1.5 M312.2 310.9 v-1.7 M315.2 310.9 v-1.8 M323.6 310.9 v-1.7 M333.7 310.9 v-1.8 M348.1 310.9 v-1.6 M357.7 310.9 v-0.7 M359.7 310.9 v-1.4 M364.2 310.9 v-1.4 M374.9 310.9 v-1.3 M376.4 310.9 v-1.8 M379.8 310.9 v-0.8 M381.4 310.9 v-1.0 M382.3 310.9 v-1.0 M386.9 310.9 v-1.2 M389.0 310.9 v-1.1 M399.8 310.9 v-1.3 M407.8 310.9 v-1.2 M410.8 310.9 v-0.9 M420.2 310.9 v-1.2 M421.0 310.9 v-1.1 M422.4 310.9 v-1.9 M428.2 310.9 v-0.9 M462.6 310.9 v-1.4 M465.9 310.9 v-1.8 M478.6 310.9 v-1.6 M482.0 310.9 v-1.3 M489.2 310.9 v-1.4 M496.8 310.9 v-0.9 M503.3 310.9 v-1.0 M505.0 310.9 v-1.0 M508.2 310.9 v-0.7" stroke="#111" stroke-width="0.8" opacity="0.9" fill="none"/>
<path d="M292.20 310.9 L292.56 305.5 L293.44 305.5 L293.80 310.9Z M296.10 310.9 L296.50 303 L297.50 303 L297.90 310.9Z M308.60 310.9 L309.05 297.3 L310.15 297.3 L310.60 310.9Z M310.70 310.9 L311.11 301 L312.10 301 L312.50 310.9Z M306.80 310.9 L307.12 304 L307.88 304 L308.20 310.9Z M327.30 310.9 L327.62 306.2 L328.38 306.2 L328.70 310.9Z M330.40 310.9 L330.67 307.5 L331.33 307.5 L331.60 310.9Z M335.30 310.9 L335.62 307.2 L336.38 307.2 L336.70 310.9Z M342.40 310.9 L342.67 308.5 L343.33 308.5 L343.60 310.9Z M347.40 310.9 L347.67 308.5 L348.33 308.5 L348.60 310.9Z M379.00 310.9 L379.54 297.3 L380.86 297.3 L381.40 310.9Z M382.70 310.9 L383.11 303 L384.10 303 L384.50 310.9Z M399.90 310.9 L400.31 304.5 L401.30 304.5 L401.70 310.9Z M395.40 310.9 L395.67 308.5 L396.33 308.5 L396.60 310.9Z M403.30 310.9 L403.62 307.5 L404.38 307.5 L404.70 310.9Z M411.40 310.9 L411.67 308.8 L412.33 308.8 L412.60 310.9Z M419.40 310.9 L419.67 309 L420.33 309 L420.60 310.9Z" fill="#111"/>
<path d="M380.5 317.0 H490" stroke="#8c94d0" stroke-width="0.8"/>
<path d="M380.2 312.00 H381.2 V322.00 H380.2Z M413.25 312.60 h1.3 v8.80 h-1.3Z M415.95 312.60 h1.3 v8.80 h-1.3Z M431.65 312.60 h1.3 v8.80 h-1.3Z M442.05 312.60 h1.3 v8.80 h-1.3Z M453.55 312.60 h1.3 v8.80 h-1.3Z M473.15 312.60 h1.3 v8.80 h-1.3Z M484.2 312.70 H490.0 V321.30 H484.2Z" fill="#262690"/>
<path d="M383.5 314.8 L381.6 317 L383.5 319.2" stroke="#262690" stroke-width="0.8" fill="none"/>
<text x="377.8" y="318.9" font-size="10.3" font-style="italic" fill="#262690" stroke="#262690" stroke-width="0.2" text-anchor="end">Ptgs1</text>
<path d="M458.6 217.7 H508.8" stroke="#111" stroke-width="1.2"/>
<path d="M456.3 217.7 L458.6 215.2 L460.90000000000003 217.7 L458.6 220.2Z" fill="#111"/>
<path d="M506.5 217.7 L508.8 215.2 L511.1 217.7 L508.8 220.2Z" fill="#111"/>
<text x="483.70000000000005" y="226.4" font-size="7.4" fill="#222" text-anchor="middle"  stroke="#222" stroke-width="0.15">10kb</text>
<rect x="291.9" y="210.5" width="220.50" height="115.80" fill="none" stroke="#1c1c1c" stroke-width="1.25"/>
<path d="M70.5 365.4 H78.1 M80.5 365.4 H85.8 M88.5 365.4 H95.6 M98.0 365.4 H106.4 M107.9 365.4 H117.6 M119.5 365.4 H132.6 M134.8 365.4 H149.7 M151.1 365.4 H162.3 M165.3 365.4 H173.7 M175.5 365.4 H188.8 M191.2 365.4 H197.9 M200.3 365.4 H207.5 M210.2 365.4 H217.5 M233.5 365.4 H239.1 M241.2 365.4 H252.0 M253.1 365.4 H261.7 M278.7 365.4 H283.9 M285.2 365.4 H286.0" stroke="#303078" stroke-width="0.65" opacity="0.8" fill="none"/>
<path d="M72.0 365.4 v-1.0 M74.4 365.4 v-0.7 M76.9 365.4 v-0.5 M93.3 365.4 v-0.7 M95.8 365.4 v-0.6 M107.8 365.4 v-1.4 M113.8 365.4 v-0.8 M115.5 365.4 v-1.0 M121.1 365.4 v-0.9 M128.3 365.4 v-1.1 M129.4 365.4 v-1.2 M132.2 365.4 v-1.0 M136.1 365.4 v-1.2 M137.1 365.4 v-0.4 M150.7 365.4 v-0.7 M153.7 365.4 v-0.6 M161.2 365.4 v-0.9 M163.4 365.4 v-1.4 M167.8 365.4 v-0.9 M170.9 365.4 v-0.6 M172.8 365.4 v-1.3 M173.6 365.4 v-0.9 M179.2 365.4 v-1.2 M180.2 365.4 v-0.4 M182.4 365.4 v-0.4 M186.5 365.4 v-0.5 M187.7 365.4 v-0.5 M189.8 365.4 v-0.9 M191.1 365.4 v-1.0 M194.1 365.4 v-1.0 M204.6 365.4 v-0.7 M225.6 365.4 v-1.2 M229.4 365.4 v-0.8 M234.3 365.4 v-1.2 M236.7 365.4 v-0.4 M240.3 365.4 v-1.1 M252.5 365.4 v-1.0 M253.5 365.4 v-0.8 M258.3 365.4 v-0.5 M264.0 365.4 v-1.0 M264.8 365.4 v-0.4 M265.9 365.4 v-0.9 M277.3 365.4 v-1.2 M283.4 365.4 v-1.0" stroke="#303078" stroke-width="0.8" opacity="0.8" fill="none"/>
<path d="M69.10 365.4 L69.50 360 L70.50 360 L70.90 365.4Z M71.80 365.4 L72.11 362.5 L72.89 362.5 L73.20 365.4Z M74.40 365.4 L74.67 363.5 L75.33 363.5 L75.60 365.4Z M99.40 365.4 L99.67 363 L100.33 363 L100.60 365.4Z M126.40 365.4 L126.67 363.3 L127.33 363.3 L127.60 365.4Z M140.40 365.4 L140.67 363.6 L141.33 363.6 L141.60 365.4Z M149.80 365.4 L150.12 362.6 L150.88 362.6 L151.20 365.4Z M159.40 365.4 L159.67 363.7 L160.33 363.7 L160.60 365.4Z M180.40 365.4 L180.67 363.2 L181.33 363.2 L181.60 365.4Z M196.40 365.4 L196.67 363.4 L197.33 363.4 L197.60 365.4Z M212.40 365.4 L212.67 363 L213.33 363 L213.60 365.4Z M235.40 365.4 L235.67 363.3 L236.33 363.3 L236.60 365.4Z M261.40 365.4 L261.67 363 L262.33 363 L262.60 365.4Z M267.40 365.4 L267.67 362.7 L268.33 362.7 L268.60 365.4Z M280.90 365.4 L281.39 346.3 L282.61 346.3 L283.10 365.4Z M278.50 365.4 L278.81 361 L279.58 361 L279.90 365.4Z M275.40 365.4 L275.67 363.4 L276.33 363.4 L276.60 365.4Z" fill="#303078"/>
<path d="M70.5 387.7 H74.0 M75.0 387.7 H81.0 M82.5 387.7 H87.0 M88.0 387.7 H91.8 M97.6 387.7 H100.3 M101.3 387.7 H106.3 M107.3 387.7 H110.8 M116.8 387.7 H121.2 M121.8 387.7 H128.3 M128.9 387.7 H134.2 M141.8 387.7 H145.5 M150.6 387.7 H154.9 M160.5 387.7 H164.9 M166.4 387.7 H169.4 M170.0 387.7 H176.6 M177.8 387.7 H181.4 M189.9 387.7 H192.6 M194.2 387.7 H200.5 M201.6 387.7 H205.2 M206.5 387.7 H212.3 M213.2 387.7 H218.7 M219.7 387.7 H222.3 M223.0 387.7 H229.1 M230.4 387.7 H234.2 M234.9 387.7 H241.7 M242.4 387.7 H247.9 M249.1 387.7 H254.9 M256.4 387.7 H263.2 M264.5 387.7 H268.3 M269.2 387.7 H274.5 M275.4 387.7 H281.6 M282.8 387.7 H286.0" stroke="#45862a" stroke-width="0.75" opacity="0.9" fill="none"/>
<path d="M70.5 387.7 v-1.2 M73.5 387.7 v-1.3 M74.5 387.7 v-1.8 M76.5 387.7 v-1.0 M78.4 387.7 v-2.3 M79.7 387.7 v-0.9 M80.9 387.7 v-1.1 M82.7 387.7 v-1.8 M84.7 387.7 v-0.9 M85.6 387.7 v-2.2 M87.3 387.7 v-1.5 M88.9 387.7 v-0.6 M90.3 387.7 v-2.5 M93.6 387.7 v-0.8 M95.5 387.7 v-1.7 M96.5 387.7 v-1.4 M102.9 387.7 v-2.1 M104.7 387.7 v-1.6 M106.1 387.7 v-2.0 M107.8 387.7 v-2.2 M109.8 387.7 v-0.8 M110.7 387.7 v-2.5 M111.9 387.7 v-1.5 M113.5 387.7 v-2.1 M116.7 387.7 v-1.7 M118.5 387.7 v-2.1 M121.5 387.7 v-0.9 M122.9 387.7 v-1.9 M123.9 387.7 v-0.9 M125.4 387.7 v-0.5 M129.0 387.7 v-2.2 M131.1 387.7 v-2.1 M134.2 387.7 v-0.8 M137.4 387.7 v-0.8 M138.6 387.7 v-1.9 M141.9 387.7 v-1.5 M143.2 387.7 v-1.9 M145.0 387.7 v-1.7 M146.0 387.7 v-1.3 M147.3 387.7 v-0.7 M150.7 387.7 v-1.2 M152.0 387.7 v-0.8 M154.9 387.7 v-0.7 M158.8 387.7 v-0.9 M161.9 387.7 v-1.4 M163.2 387.7 v-2.2 M171.6 387.7 v-1.4 M176.7 387.7 v-0.6 M177.9 387.7 v-1.4 M180.0 387.7 v-2.2 M180.9 387.7 v-2.0 M182.2 387.7 v-0.6 M183.1 387.7 v-1.6 M184.4 387.7 v-1.1 M186.5 387.7 v-1.3 M187.7 387.7 v-1.1 M188.9 387.7 v-0.6 M190.4 387.7 v-2.3 M191.7 387.7 v-1.6 M192.5 387.7 v-2.1 M194.1 387.7 v-1.2 M196.0 387.7 v-2.2 M201.2 387.7 v-1.7 M204.7 387.7 v-2.1 M206.4 387.7 v-2.4 M207.3 387.7 v-1.3 M209.4 387.7 v-1.7 M213.9 387.7 v-2.0 M217.1 387.7 v-2.0 M219.0 387.7 v-2.5 M220.5 387.7 v-1.5 M221.8 387.7 v-2.4 M223.9 387.7 v-1.4 M226.0 387.7 v-1.4 M227.5 387.7 v-1.8 M232.8 387.7 v-1.5 M237.0 387.7 v-0.7 M240.1 387.7 v-1.0 M243.3 387.7 v-0.7 M247.2 387.7 v-2.1 M249.1 387.7 v-1.1 M254.0 387.7 v-2.5 M260.1 387.7 v-0.7 M263.9 387.7 v-0.6 M265.7 387.7 v-2.4 M267.9 387.7 v-1.9 M275.1 387.7 v-1.4 M276.8 387.7 v-0.7 M277.6 387.7 v-1.0 M278.7 387.7 v-1.4 M282.3 387.7 v-2.3 M285.6 387.7 v-1.2" stroke="#45862a" stroke-width="0.8" opacity="0.9" fill="none"/>
<path d="M87.20 387.7 L87.56 384 L88.44 384 L88.80 387.7Z M91.20 387.7 L91.56 385 L92.44 385 L92.80 387.7Z M94.20 387.7 L94.56 382 L95.44 382 L95.80 387.7Z M97.20 387.7 L97.56 380 L98.44 380 L98.80 387.7Z M99.70 387.7 L100.06 383 L100.94 383 L101.30 387.7Z M101.20 387.7 L101.56 376.2 L102.44 376.2 L102.80 387.7Z M103.70 387.7 L104.06 379 L104.94 379 L105.30 387.7Z M106.20 387.7 L106.56 382 L107.44 382 L107.80 387.7Z M108.70 387.7 L109.06 383.5 L109.94 383.5 L110.30 387.7Z M111.20 387.7 L111.56 384.5 L112.44 384.5 L112.80 387.7Z M117.20 387.7 L117.56 384.5 L118.44 384.5 L118.80 387.7Z M120.20 387.7 L120.56 383 L121.44 383 L121.80 387.7Z M133.20 387.7 L133.56 384 L134.44 384 L134.80 387.7Z M138.20 387.7 L138.56 385 L139.44 385 L139.80 387.7Z M151.20 387.7 L151.56 384 L152.44 384 L152.80 387.7Z M154.20 387.7 L154.56 383 L155.44 383 L155.80 387.7Z M159.20 387.7 L159.56 382 L160.44 382 L160.80 387.7Z M162.20 387.7 L162.56 381 L163.44 381 L163.80 387.7Z M164.70 387.7 L165.06 382 L165.94 382 L166.30 387.7Z M167.20 387.7 L167.56 382.5 L168.44 382.5 L168.80 387.7Z M170.20 387.7 L170.56 382 L171.44 382 L171.80 387.7Z M173.20 387.7 L173.56 383 L174.44 383 L174.80 387.7Z M176.20 387.7 L176.56 384 L177.44 384 L177.80 387.7Z M180.20 387.7 L180.56 385 L181.44 385 L181.80 387.7Z M189.20 387.7 L189.56 382.5 L190.44 382.5 L190.80 387.7Z M196.20 387.7 L196.56 384.5 L197.44 384.5 L197.80 387.7Z M202.20 387.7 L202.56 384.5 L203.44 384.5 L203.80 387.7Z M206.20 387.7 L206.56 383.5 L207.44 383.5 L207.80 387.7Z M217.70 387.7 L218.06 380.5 L218.94 380.5 L219.30 387.7Z M221.20 387.7 L221.56 384 L222.44 384 L222.80 387.7Z M228.20 387.7 L228.56 382 L229.44 382 L229.80 387.7Z M232.20 387.7 L232.56 384.5 L233.44 384.5 L233.80 387.7Z M238.20 387.7 L238.56 382 L239.44 382 L239.80 387.7Z M242.20 387.7 L242.56 381 L243.44 381 L243.80 387.7Z M245.20 387.7 L245.56 383 L246.44 383 L246.80 387.7Z M249.20 387.7 L249.56 382 L250.44 382 L250.80 387.7Z M255.20 387.7 L255.56 384 L256.44 384 L256.80 387.7Z M261.20 387.7 L261.56 384.5 L262.44 384.5 L262.80 387.7Z M265.20 387.7 L265.56 384 L266.44 384 L266.80 387.7Z M280.20 387.7 L280.56 384 L281.44 384 L281.80 387.7Z M283.20 387.7 L283.56 384.5 L284.44 384.5 L284.80 387.7Z M285.20 387.7 L285.56 382.8 L286.44 382.8 L286.80 387.7Z" fill="#45862a"/>
<path d="M272.60 387.7 L273.14 369.3 L274.46 369.3 L275.00 387.7Z" fill="#45862a"/>
<rect x="272.4" y="387.7" width="2.90" height="9.50" fill="#45862a" opacity="1"/>
<path d="M76.0 430.1 H77.3 M81.4 430.1 H82.7 M106.8 430.1 H107.8 M123.0 430.1 H123.9 M127.2 430.1 H128.0 M139.4 430.1 H140.2 M145.9 430.1 H146.7 M157.8 430.1 H158.5 M173.0 430.1 H174.2 M204.1 430.1 H205.2 M210.6 430.1 H211.9 M226.0 430.1 H226.6 M230.4 430.1 H230.9 M233.1 430.1 H234.4 M271.5 430.1 H272.3 M281.6 430.1 H282.8" stroke="#111" stroke-width="0.8" opacity="0.9" fill="none"/>
<path d="M70.5 430.1 v-0.7 M82.6 430.1 v-1.3 M84.6 430.1 v-1.4 M96.1 430.1 v-0.9 M98.2 430.1 v-1.0 M116.7 430.1 v-1.4 M118.1 430.1 v-0.7 M127.3 430.1 v-0.7 M146.6 430.1 v-1.5 M156.9 430.1 v-1.4 M167.2 430.1 v-1.5 M170.7 430.1 v-0.6 M186.3 430.1 v-1.2 M189.6 430.1 v-1.6 M206.5 430.1 v-1.3 M207.7 430.1 v-1.5 M242.4 430.1 v-1.2 M265.7 430.1 v-1.3" stroke="#111" stroke-width="0.8" opacity="0.9" fill="none"/>
<path d="M69.30 430.1 L69.61 428 L70.39 428 L70.70 430.1Z M111.30 430.1 L111.61 428 L112.39 428 L112.70 430.1Z M117.30 430.1 L117.61 428.2 L118.39 428.2 L118.70 430.1Z M126.80 430.1 L127.11 428 L127.89 428 L128.20 430.1Z M136.40 430.1 L136.67 428.5 L137.33 428.5 L137.60 430.1Z M143.00 430.1 L143.36 422.7 L144.24 422.7 L144.60 430.1Z M146.40 430.1 L146.67 428.3 L147.33 428.3 L147.60 430.1Z M177.40 430.1 L177.67 428.5 L178.33 428.5 L178.60 430.1Z M195.40 430.1 L195.67 428.4 L196.33 428.4 L196.60 430.1Z M253.90 430.1 L254.17 427.8 L254.83 427.8 L255.10 430.1Z M257.40 430.1 L257.67 428.3 L258.33 428.3 L258.60 430.1Z M263.40 430.1 L263.67 427.5 L264.33 427.5 L264.60 430.1Z M266.30 430.1 L266.62 426.5 L267.38 426.5 L267.70 430.1Z M269.70 430.1 L270.06 424 L270.94 424 L271.30 430.1Z M272.40 430.1 L272.81 420.8 L273.80 420.8 L274.20 430.1Z M275.40 430.1 L275.81 418.3 L276.80 418.3 L277.20 430.1Z M278.80 430.1 L279.12 422.5 L279.88 422.5 L280.20 430.1Z M281.00 430.1 L281.36 419.5 L282.24 419.5 L282.60 430.1Z" fill="#111"/>
<path d="M68.8 434.6 H104.5" stroke="#8c94d0" stroke-width="0.8"/>
<path d="M69.2 428.80 H71.0 V440.40 H69.2Z" fill="#262690"/>
<rect x="77.5" y="429.2" width="5.00" height="10.80" fill="#9a9ad0" opacity="1"/>
<path d="M87 434.6 H87" stroke="#8c94d0" stroke-width="0.8"/>
<path d="M87.6 428.80 H89.0 V440.40 H87.6Z M89.9 428.80 H91.3 V440.40 H89.9Z M92.2 428.80 H93.6 V440.40 H92.2Z M95.0 429.00 H96.0 V440.20 H95.0Z M97.2 429.00 H98.1 V440.20 H97.2Z M99.4 429.00 H100.2 V440.20 H99.4Z M102.6 428.80 H103.8 V440.40 H102.6Z" fill="#262690"/>
<text x="113.8" y="440.4" font-size="10.0" font-style="italic" fill="#262690" stroke="#262690" stroke-width="0.2" text-anchor="start">Ecm1</text>
<path d="M220.8 337.5 H286.2" stroke="#111" stroke-width="1.2"/>
<path d="M218.5 337.5 L220.8 335.0 L223.10000000000002 337.5 L220.8 340.0Z" fill="#111"/>
<path d="M283.9 337.5 L286.2 335.0 L288.5 337.5 L286.2 340.0Z" fill="#111"/>
<text x="256.5" y="346.3" font-size="7.4" fill="#222" text-anchor="middle"  stroke="#222" stroke-width="0.15">10kb</text>
<rect x="68.5" y="330.1" width="220.50" height="116.10" fill="none" stroke="#1c1c1c" stroke-width="1.25"/>
<path d="M294.9 362.7 H309.9 M312.6 362.7 H317.6 M320.5 362.7 H329.9 M331.9 362.7 H338.5 M340.4 362.7 H354.1 M356.2 362.7 H365.9 M368.5 362.7 H379.5 M382.4 362.7 H393.4 M411.4 362.7 H421.3 M422.6 362.7 H429.9 M431.8 362.7 H442.8 M445.0 362.7 H454.8 M457.4 362.7 H464.7 M466.8 362.7 H475.2 M477.6 362.7 H487.0 M488.5 362.7 H502.1 M504.8 362.7 H509.4" stroke="#303078" stroke-width="0.65" opacity="0.8" fill="none"/>
<path d="M294.9 362.7 v-1.2 M298.3 362.7 v-1.8 M299.1 362.7 v-1.5 M300.3 362.7 v-0.6 M302.7 362.7 v-0.4 M303.5 362.7 v-1.1 M305.7 362.7 v-1.6 M309.1 362.7 v-0.9 M310.5 362.7 v-1.7 M312.0 362.7 v-1.1 M313.9 362.7 v-1.2 M314.9 362.7 v-0.7 M321.3 362.7 v-1.8 M322.7 362.7 v-0.6 M323.7 362.7 v-0.5 M324.5 362.7 v-1.2 M325.6 362.7 v-1.5 M327.0 362.7 v-1.4 M329.2 362.7 v-1.0 M334.8 362.7 v-1.1 M335.9 362.7 v-0.8 M338.0 362.7 v-1.5 M340.1 362.7 v-1.5 M341.6 362.7 v-0.6 M345.1 362.7 v-1.1 M346.4 362.7 v-1.5 M347.2 362.7 v-1.1 M349.4 362.7 v-0.7 M351.0 362.7 v-1.4 M354.0 362.7 v-1.1 M355.1 362.7 v-1.7 M357.6 362.7 v-0.6 M358.7 362.7 v-0.4 M362.1 362.7 v-1.4 M363.8 362.7 v-1.5 M364.7 362.7 v-1.5 M366.6 362.7 v-1.1 M368.5 362.7 v-1.1 M369.6 362.7 v-0.7 M371.1 362.7 v-1.0 M372.8 362.7 v-1.3 M381.4 362.7 v-0.5 M383.1 362.7 v-1.3 M384.7 362.7 v-1.0 M385.8 362.7 v-1.4 M387.8 362.7 v-0.8 M389.3 362.7 v-1.3 M395.2 362.7 v-1.0 M396.9 362.7 v-1.6 M398.3 362.7 v-1.1 M399.6 362.7 v-0.8 M405.4 362.7 v-1.6 M406.3 362.7 v-1.7 M410.0 362.7 v-1.1 M411.0 362.7 v-1.1 M412.9 362.7 v-1.3 M413.9 362.7 v-0.5 M415.5 362.7 v-1.4 M418.7 362.7 v-1.6 M419.8 362.7 v-1.2 M423.2 362.7 v-1.7 M424.6 362.7 v-1.5 M427.9 362.7 v-1.1 M429.3 362.7 v-1.2 M430.3 362.7 v-0.6 M431.2 362.7 v-1.4 M439.6 362.7 v-1.4 M440.6 362.7 v-0.9 M441.8 362.7 v-0.6 M443.2 362.7 v-1.5 M452.0 362.7 v-1.2 M452.9 362.7 v-0.9 M454.6 362.7 v-1.5 M455.5 362.7 v-1.1 M457.5 362.7 v-0.6 M459.2 362.7 v-1.3 M462.0 362.7 v-0.8 M464.1 362.7 v-0.7 M467.8 362.7 v-0.9 M469.6 362.7 v-1.4 M471.4 362.7 v-0.5 M472.4 362.7 v-0.7 M473.6 362.7 v-0.4 M476.2 362.7 v-1.4 M477.1 362.7 v-1.1 M479.8 362.7 v-0.9 M482.9 362.7 v-1.2 M484.0 362.7 v-1.7 M489.3 362.7 v-0.6 M491.0 362.7 v-1.4 M491.8 362.7 v-0.6 M493.7 362.7 v-0.8 M495.6 362.7 v-0.8 M496.9 362.7 v-0.5 M499.8 362.7 v-1.7 M502.3 362.7 v-1.3 M506.1 362.7 v-1.0 M507.6 362.7 v-0.7" stroke="#303078" stroke-width="0.8" opacity="0.8" fill="none"/>
<path d="M315 362.7 V360 M318 362.7 V360.5 M325 362.7 V361 M332 362.7 V360 M338 362.7 V359.5 M344 362.7 V360.5 M353 362.7 V360 M360 362.7 V360.8 M367 362.7 V358.5 M376 362.7 V360 M383 362.7 V360 M390 362.7 V359 M397 362.7 V359.5 M405 362.7 V354.5 M409 362.7 V358 M421 362.7 V352 M424 362.7 V358 M430 362.7 V356 M433.5 362.7 V343 M437 362.7 V356 M443.5 362.7 V341.4 M446 362.7 V357 M452 362.7 V350 M454.5 362.7 V345 M458 362.7 V356 M462 362.7 V358 M466 362.7 V356 M470 362.7 V358 M475.8 362.7 V341.4 M479 362.7 V353 M485.9 362.7 V343 M489 362.7 V356 M492 362.7 V358 M498 362.7 V341.4 M500.5 362.7 V341.4 M503 362.7 V355 M507.5 362.7 V343" stroke="#5c5ca8" stroke-width="0.8" opacity="1" fill="none"/>
<path d="M294.9 385.0 H297.7 M299.3 385.0 H304.4 M305.7 385.0 H312.6 M320.3 385.0 H323.6 M325.0 385.0 H331.3 M332.5 385.0 H334.9 M336.4 385.0 H341.5 M342.6 385.0 H346.6 M347.4 385.0 H353.3 M353.9 385.0 H358.9 M360.2 385.0 H363.1 M363.8 385.0 H368.3 M369.0 385.0 H372.3 M373.0 385.0 H375.2 M376.4 385.0 H379.7 M380.7 385.0 H384.9 M386.2 385.0 H390.5 M391.8 385.0 H395.3 M396.6 385.0 H402.4 M403.0 385.0 H408.7 M410.1 385.0 H415.2 M415.8 385.0 H419.6 M420.3 385.0 H422.4 M423.9 385.0 H429.0 M429.6 385.0 H435.8 M437.1 385.0 H440.1 M440.6 385.0 H443.5 M445.0 385.0 H447.2 M448.5 385.0 H454.3 M454.9 385.0 H461.2 M462.7 385.0 H467.5 M468.8 385.0 H474.1 M475.4 385.0 H479.9 M480.9 385.0 H485.2 M486.5 385.0 H491.5 M492.3 385.0 H498.8 M499.6 385.0 H501.8 M503.0 385.0 H509.4" stroke="#45862a" stroke-width="0.75" opacity="0.9" fill="none"/>
<path d="M294.9 385.0 v-1.0 M296.6 385.0 v-1.1 M297.8 385.0 v-2.5 M299.4 385.0 v-0.7 M301.3 385.0 v-2.8 M303.2 385.0 v-1.3 M304.6 385.0 v-2.8 M305.7 385.0 v-1.7 M306.6 385.0 v-2.2 M308.2 385.0 v-0.7 M309.8 385.0 v-1.3 M310.9 385.0 v-1.8 M312.3 385.0 v-2.4 M313.4 385.0 v-1.2 M315.3 385.0 v-2.1 M317.1 385.0 v-2.0 M321.1 385.0 v-1.2 M322.8 385.0 v-1.0 M323.7 385.0 v-1.6 M327.3 385.0 v-1.4 M328.2 385.0 v-2.9 M329.4 385.0 v-3.2 M330.8 385.0 v-1.7 M332.9 385.0 v-1.8 M334.6 385.0 v-3.0 M335.9 385.0 v-0.7 M336.8 385.0 v-2.7 M340.5 385.0 v-2.6 M342.0 385.0 v-2.2 M343.6 385.0 v-0.9 M344.5 385.0 v-1.3 M346.6 385.0 v-2.6 M347.6 385.0 v-3.0 M348.7 385.0 v-2.1 M350.1 385.0 v-0.9 M351.8 385.0 v-2.2 M353.8 385.0 v-1.7 M356.7 385.0 v-1.8 M357.6 385.0 v-0.7 M358.6 385.0 v-2.0 M359.7 385.0 v-1.4 M361.4 385.0 v-2.8 M362.9 385.0 v-1.3 M364.6 385.0 v-3.0 M365.7 385.0 v-0.7 M368.2 385.0 v-2.0 M369.9 385.0 v-1.1 M371.5 385.0 v-0.6 M376.3 385.0 v-2.2 M378.0 385.0 v-2.0 M379.1 385.0 v-0.7 M380.0 385.0 v-0.7 M384.7 385.0 v-1.6 M386.0 385.0 v-0.7 M387.1 385.0 v-1.7 M388.6 385.0 v-3.0 M390.6 385.0 v-2.7 M391.9 385.0 v-2.6 M393.2 385.0 v-1.5 M394.3 385.0 v-0.8 M396.1 385.0 v-1.9 M398.0 385.0 v-3.0 M399.8 385.0 v-2.5 M403.2 385.0 v-2.0 M406.0 385.0 v-1.9 M407.2 385.0 v-2.2 M408.0 385.0 v-2.2 M409.4 385.0 v-1.8 M410.3 385.0 v-3.2 M411.3 385.0 v-2.2 M412.9 385.0 v-1.9 M420.4 385.0 v-1.1 M423.7 385.0 v-1.8 M425.7 385.0 v-2.1 M429.9 385.0 v-2.6 M431.1 385.0 v-3.0 M433.9 385.0 v-2.5 M436.1 385.0 v-1.3 M437.0 385.0 v-1.2 M438.6 385.0 v-0.9 M439.6 385.0 v-2.7 M440.5 385.0 v-3.2 M441.8 385.0 v-2.7 M444.5 385.0 v-1.4 M446.9 385.0 v-2.3 M449.1 385.0 v-1.0 M450.5 385.0 v-2.1 M452.2 385.0 v-1.0 M453.8 385.0 v-0.8 M454.8 385.0 v-1.6 M456.0 385.0 v-0.7 M460.4 385.0 v-1.5 M462.4 385.0 v-2.2 M465.5 385.0 v-0.7 M467.0 385.0 v-2.4 M468.3 385.0 v-2.9 M469.3 385.0 v-1.9 M470.2 385.0 v-2.5 M471.2 385.0 v-0.9 M472.7 385.0 v-1.3 M474.1 385.0 v-2.3 M476.2 385.0 v-1.5 M477.3 385.0 v-1.5 M478.4 385.0 v-1.7 M480.4 385.0 v-2.7 M481.9 385.0 v-1.2 M483.2 385.0 v-0.7 M484.7 385.0 v-1.3 M485.9 385.0 v-2.1 M486.8 385.0 v-1.2 M490.6 385.0 v-1.4 M494.9 385.0 v-1.4 M496.3 385.0 v-1.5 M498.4 385.0 v-1.0 M500.4 385.0 v-1.7 M501.5 385.0 v-3.2 M503.3 385.0 v-1.5 M507.1 385.0 v-0.6 M508.7 385.0 v-2.9" stroke="#45862a" stroke-width="0.8" opacity="0.9" fill="none"/>
<path d="M300 385.0 V380 M305 385.0 V381 M312 385.0 V379.5 M320 385.0 V380.5 M330 385.0 V380 M338 385.0 V378 M345 385.0 V380 M352 385.0 V379.5 M358 385.0 V381 M368 385.0 V380 M376 385.0 V378 M382 385.0 V380 M390 385.0 V379 M395 385.0 V377.5 M400 385.0 V380 M408 385.0 V380.5 M414 385.0 V379 M420 385.0 V380.5 M426 385.0 V381 M432 385.0 V379.5 M440 385.0 V379 M446 385.0 V381 M452 385.0 V380 M460 385.0 V381 M466 385.0 V380 M472 385.0 V379 M482 385.0 V378.5 M488 385.0 V381 M494 385.0 V380 M500 385.0 V379 M506 385.0 V380.5" stroke="#45862a" stroke-width="0.8" opacity="0.85" fill="none"/>
<path d="M477 385.0 V364.8" stroke="#45862a" stroke-width="1.2" opacity="1" fill="none"/>
<rect x="476.5" y="385" width="1.50" height="10.00" fill="#45862a" opacity="0.85"/>
<path d="M404.2 407.2 V424 M434.2 406 V416 M456.2 396 V406 M477.2 395 V416" stroke="#e06060" stroke-width="0.8" opacity="0.9"/>
<path d="M294.9 428.9 H296.1 M305.4 428.9 H306.7 M317.7 428.9 H318.5 M322.3 428.9 H323.3 M328.5 428.9 H329.8 M334.7 428.9 H335.4 M338.5 428.9 H339.1 M341.1 428.9 H342.4 M346.1 428.9 H346.7 M351.4 428.9 H352.1 M355.6 428.9 H356.7 M360.0 428.9 H361.0 M364.4 428.9 H365.8 M370.4 428.9 H371.0 M374.9 428.9 H375.6 M380.6 428.9 H381.3 M386.6 428.9 H387.4 M392.0 428.9 H393.0 M396.1 428.9 H397.3 M402.6 428.9 H403.2 M413.5 428.9 H414.7 M417.8 428.9 H418.7 M421.0 428.9 H422.2 M425.8 428.9 H427.2 M432.3 428.9 H432.9 M436.0 428.9 H436.9 M442.4 428.9 H443.7 M449.1 428.9 H450.3 M452.6 428.9 H453.5 M455.8 428.9 H457.1 M460.0 428.9 H460.6 M463.7 428.9 H465.1 M473.7 428.9 H474.7 M478.5 428.9 H479.4 M481.5 428.9 H482.3 M485.4 428.9 H486.2 M489.2 428.9 H490.4 M494.3 428.9 H495.5 M500.0 428.9 H500.8 M503.2 428.9 H504.0" stroke="#111" stroke-width="0.8" opacity="0.9" fill="none"/>
<path d="M296.1 428.9 v-1.6 M297.2 428.9 v-0.6 M304.0 428.9 v-2.3 M307.8 428.9 v-0.7 M309.0 428.9 v-1.7 M312.8 428.9 v-0.9 M313.8 428.9 v-2.2 M316.3 428.9 v-2.0 M320.0 428.9 v-2.3 M321.3 428.9 v-2.3 M325.7 428.9 v-1.0 M327.8 428.9 v-1.4 M334.5 428.9 v-0.7 M335.7 428.9 v-0.9 M336.6 428.9 v-2.2 M339.8 428.9 v-2.1 M340.6 428.9 v-1.7 M344.8 428.9 v-1.8 M355.3 428.9 v-2.1 M362.3 428.9 v-2.2 M364.5 428.9 v-1.1 M369.6 428.9 v-1.0 M381.2 428.9 v-1.8 M383.2 428.9 v-2.1 M385.0 428.9 v-0.8 M391.0 428.9 v-1.8 M394.0 428.9 v-0.9 M396.0 428.9 v-2.2 M399.8 428.9 v-1.6 M401.1 428.9 v-2.0 M403.5 428.9 v-0.9 M405.4 428.9 v-0.5 M406.8 428.9 v-2.1 M408.8 428.9 v-1.9 M411.8 428.9 v-1.4 M413.2 428.9 v-1.5 M414.9 428.9 v-1.5 M418.0 428.9 v-1.0 M420.1 428.9 v-2.1 M432.7 428.9 v-1.2 M435.3 428.9 v-2.3 M438.7 428.9 v-1.2 M439.6 428.9 v-1.3 M442.6 428.9 v-0.8 M448.8 428.9 v-1.4 M457.2 428.9 v-1.6 M460.8 428.9 v-1.1 M465.4 428.9 v-1.9 M467.0 428.9 v-2.2 M468.1 428.9 v-1.5 M473.7 428.9 v-0.8 M480.2 428.9 v-2.2 M482.2 428.9 v-2.2 M483.9 428.9 v-1.9 M490.4 428.9 v-1.8 M492.1 428.9 v-1.4 M494.3 428.9 v-1.0 M500.6 428.9 v-1.7 M505.8 428.9 v-1.6 M507.1 428.9 v-1.6" stroke="#111" stroke-width="0.8" opacity="0.9" fill="none"/>
<path d="M300 428.9 V425 M306 428.9 V426 M318 428.9 V426 M330 428.9 V425.5 M340 428.9 V426 M352 428.9 V426 M364 428.9 V426 M372 428.9 V425.5 M384 428.9 V426 M396 428.9 V424 M404 428.9 V426 M412 428.9 V425 M420 428.9 V424.5 M428 428.9 V424 M433.5 428.9 V417 M435.5 428.9 V421 M440 428.9 V424 M445 428.9 V421 M450 428.9 V424 M455.8 428.9 V417 M460 428.9 V424 M465 428.9 V425 M470 428.9 V424 M478 428.9 V417 M480 428.9 V421 M486 428.9 V424 M491 428.9 V419 M495 428.9 V420 M498 428.9 V422 M500 428.9 V419 M503 428.9 V424 M506 428.9 V419" stroke="#111" stroke-width="0.8" opacity="1" fill="none"/>
<path d="M432.60 428.9 L433.00 418 L434.00 418 L434.40 428.9Z M477.00 428.9 L477.45 418 L478.55 418 L479.00 428.9Z M455.10 428.9 L455.42 419 L456.19 419 L456.50 428.9Z" fill="#111"/>
<path d="M306.5 434.2 H361.5" stroke="#9aa2d4" stroke-width="0.8"/>
<path d="M306.07 429.30 h0.85 v9.80 h-0.85Z M323.38 429.30 h0.85 v9.80 h-0.85Z M330.18 429.30 h0.85 v9.80 h-0.85Z M332.07 429.30 h0.85 v9.80 h-0.85Z M334.97 429.30 h0.85 v9.80 h-0.85Z M337.27 429.30 h0.85 v9.80 h-0.85Z M339.18 429.30 h0.85 v9.80 h-0.85Z M341.68 429.30 h0.85 v9.80 h-0.85Z M343.57 429.30 h0.85 v9.80 h-0.85Z M346.07 429.30 h0.85 v9.80 h-0.85Z M347.47 429.30 h0.85 v9.80 h-0.85Z M351.88 429.30 h0.85 v9.80 h-0.85Z M353.07 429.30 h0.85 v9.80 h-0.85Z M354.27 429.30 h0.85 v9.80 h-0.85Z M355.47 429.30 h0.85 v9.80 h-0.85Z M358.57 429.30 h0.85 v9.80 h-0.85Z M360.57 429.30 h0.85 v9.80 h-0.85Z" fill="#262690"/>
<text x="369.9" y="440.2" font-size="9.6" font-style="italic" fill="#262690" stroke="#262690" stroke-width="0.2" text-anchor="start">Tek</text>
<path d="M422.6 336.4 H508.4" stroke="#111" stroke-width="1.2"/>
<path d="M420.3 336.4 L422.6 333.9 L424.90000000000003 336.4 L422.6 338.9Z" fill="#111"/>
<path d="M506.09999999999997 336.4 L508.4 333.9 L510.7 336.4 L508.4 338.9Z" fill="#111"/>
<text x="470.6" y="346.3" font-size="7.4" fill="#222" text-anchor="middle"  stroke="#222" stroke-width="0.15">200kb</text>
<rect x="291.9" y="330.1" width="220.50" height="116.10" fill="none" stroke="#1c1c1c" stroke-width="1.25"/>
<path d="M71.5 483.2 H82.7 M85.1 483.2 H97.2 M99.1 483.2 H110.5 M111.7 483.2 H121.2 M122.7 483.2 H137.3 M139.2 483.2 H148.9 M150.2 483.2 H157.8 M159.5 483.2 H167.9 M170.7 483.2 H180.2 M181.7 483.2 H196.0 M198.4 483.2 H204.1 M205.7 483.2 H220.2 M222.9 483.2 H228.2 M241.4 483.2 H250.0 M251.8 483.2 H259.8 M261.8 483.2 H268.6 M270.7 483.2 H281.5 M283.4 483.2 H286.0" stroke="#303078" stroke-width="0.65" opacity="0.8" fill="none"/>
<path d="M71.5 483.2 v-1.0 M72.9 483.2 v-1.6 M75.8 483.2 v-1.0 M80.7 483.2 v-1.0 M82.4 483.2 v-1.7 M84.8 483.2 v-1.4 M86.8 483.2 v-1.6 M88.6 483.2 v-1.4 M90.2 483.2 v-1.7 M94.1 483.2 v-0.8 M95.6 483.2 v-1.2 M98.8 483.2 v-0.7 M99.9 483.2 v-1.0 M103.6 483.2 v-0.8 M105.1 483.2 v-1.3 M107.6 483.2 v-1.8 M108.8 483.2 v-0.5 M111.8 483.2 v-1.6 M112.8 483.2 v-1.2 M118.9 483.2 v-1.2 M121.0 483.2 v-0.9 M122.2 483.2 v-1.5 M123.9 483.2 v-1.4 M126.0 483.2 v-0.4 M134.5 483.2 v-1.6 M137.6 483.2 v-1.8 M139.3 483.2 v-1.1 M150.4 483.2 v-0.8 M151.8 483.2 v-0.5 M153.1 483.2 v-1.3 M155.3 483.2 v-1.2 M158.6 483.2 v-1.6 M160.3 483.2 v-1.3 M170.9 483.2 v-1.0 M177.9 483.2 v-0.9 M183.8 483.2 v-1.7 M186.7 483.2 v-0.7 M191.9 483.2 v-1.0 M199.6 483.2 v-1.4 M200.6 483.2 v-1.7 M201.9 483.2 v-1.3 M206.5 483.2 v-1.2 M207.9 483.2 v-1.7 M214.7 483.2 v-0.7 M219.2 483.2 v-1.2 M223.0 483.2 v-0.5 M223.9 483.2 v-0.4 M225.3 483.2 v-1.6 M228.4 483.2 v-1.3 M229.7 483.2 v-0.6 M233.6 483.2 v-1.5 M236.1 483.2 v-1.7 M237.2 483.2 v-1.7 M240.2 483.2 v-1.4 M241.9 483.2 v-1.8 M249.0 483.2 v-1.4 M252.7 483.2 v-0.6 M255.2 483.2 v-1.6 M257.3 483.2 v-1.4 M258.9 483.2 v-0.6 M266.4 483.2 v-0.6 M268.3 483.2 v-1.1 M271.4 483.2 v-0.5 M275.2 483.2 v-1.6 M276.4 483.2 v-0.6 M279.9 483.2 v-0.9 M285.8 483.2 v-1.7" stroke="#303078" stroke-width="0.8" opacity="0.8" fill="none"/>
<path d="M97.4 483.2 V466.5 M114.9 483.2 V462.3 M117.5 483.2 V476 M120.3 483.2 V462.5 M122.3 483.2 V462.5 M143.8 483.2 V466 M145.9 483.2 V465 M149.2 483.2 V462.3 M155.3 483.2 V462.3 M139 483.2 V478 M110 483.2 V479 M170 483.2 V481 M197.2 483.2 V462.6 M210 483.2 V477 M222.8 483.2 V468.2 M224 483.2 V472 M226 483.2 V474 M228 483.2 V476 M235 483.2 V479 M246.3 483.2 V462.6 M244 483.2 V478 M250 483.2 V479 M262 483.2 V480 M272 483.2 V479 M285.3 483.2 V463.7 M279 483.2 V479 M88 483.2 V480 M102 483.2 V479 M130 483.2 V479 M175 483.2 V480 M186 483.2 V480" stroke="#4848a0" stroke-width="0.9" opacity="1" fill="none"/>
<path d="M71.5 505.3 H77.2 M77.7 505.3 H83.0 M84.5 505.3 H87.4 M88.4 505.3 H90.6 M91.5 505.3 H97.3 M98.9 505.3 H101.7 M102.6 505.3 H106.2 M107.5 505.3 H109.6 M110.2 505.3 H113.8 M114.8 505.3 H121.5 M122.5 505.3 H129.4 M130.1 505.3 H135.3 M136.6 505.3 H141.1 M142.0 505.3 H148.7 M150.1 505.3 H154.8 M155.8 505.3 H162.6 M164.1 505.3 H167.7 M168.8 505.3 H173.6 M175.0 505.3 H177.9 M179.0 505.3 H183.0 M184.5 505.3 H191.5 M192.6 505.3 H195.0 M195.9 505.3 H198.3 M203.9 505.3 H210.7 M211.4 505.3 H215.7 M216.7 505.3 H219.6 M221.1 505.3 H226.3 M227.7 505.3 H232.4 M238.4 505.3 H244.5 M252.3 505.3 H255.2 M255.9 505.3 H261.0 M267.5 505.3 H270.0 M270.7 505.3 H274.1 M275.6 505.3 H279.4 M280.7 505.3 H283.6 M284.2 505.3 H286.0" stroke="#45862a" stroke-width="0.75" opacity="0.9" fill="none"/>
<path d="M71.5 505.3 v-1.5 M81.7 505.3 v-1.8 M83.1 505.3 v-1.7 M84.1 505.3 v-2.0 M91.6 505.3 v-1.7 M92.6 505.3 v-0.7 M94.2 505.3 v-1.1 M96.4 505.3 v-1.3 M97.2 505.3 v-0.7 M98.9 505.3 v-0.8 M101.6 505.3 v-1.0 M104.4 505.3 v-0.7 M106.1 505.3 v-1.6 M107.1 505.3 v-0.6 M109.9 505.3 v-1.5 M113.4 505.3 v-2.1 M115.0 505.3 v-1.7 M118.6 505.3 v-1.8 M120.6 505.3 v-2.0 M122.6 505.3 v-1.9 M123.4 505.3 v-0.8 M132.6 505.3 v-1.8 M138.3 505.3 v-1.1 M140.0 505.3 v-2.1 M144.0 505.3 v-1.7 M148.7 505.3 v-0.8 M152.3 505.3 v-0.8 M153.7 505.3 v-0.9 M156.1 505.3 v-1.2 M157.6 505.3 v-1.5 M163.5 505.3 v-0.6 M166.4 505.3 v-2.1 M171.9 505.3 v-0.5 M173.9 505.3 v-1.0 M176.1 505.3 v-1.2 M177.6 505.3 v-1.4 M178.5 505.3 v-1.0 M180.7 505.3 v-1.0 M182.0 505.3 v-0.8 M184.5 505.3 v-0.6 M186.4 505.3 v-0.9 M190.0 505.3 v-1.8 M191.9 505.3 v-1.0 M196.0 505.3 v-1.6 M199.0 505.3 v-0.8 M203.4 505.3 v-1.9 M204.7 505.3 v-1.8 M215.0 505.3 v-2.1 M215.8 505.3 v-1.4 M218.0 505.3 v-0.8 M218.9 505.3 v-1.1 M220.2 505.3 v-1.9 M226.0 505.3 v-1.7 M229.8 505.3 v-1.8 M232.0 505.3 v-1.6 M234.8 505.3 v-0.6 M236.6 505.3 v-1.6 M238.8 505.3 v-1.4 M240.9 505.3 v-1.7 M241.8 505.3 v-1.6 M244.8 505.3 v-1.6 M248.0 505.3 v-1.9 M250.5 505.3 v-1.8 M252.3 505.3 v-1.5 M254.5 505.3 v-1.4 M257.6 505.3 v-0.8 M259.2 505.3 v-1.7 M263.1 505.3 v-0.7 M264.2 505.3 v-2.0 M266.1 505.3 v-0.5 M271.2 505.3 v-2.0 M273.7 505.3 v-0.8 M276.0 505.3 v-0.7 M281.0 505.3 v-1.3 M284.9 505.3 v-0.9" stroke="#45862a" stroke-width="0.8" opacity="0.9" fill="none"/>
<path d="M111.4 505.3 V496.3 M122.3 505.3 V497 M246.3 505.3 V487 M109 505.3 V502 M114 505.3 V502 M119 505.3 V502.5 M125 505.3 V502 M248.5 505.3 V502" stroke="#45862a" stroke-width="0.9" opacity="1" fill="none"/>
<rect x="110.9" y="505.3" width="1.20" height="9.70" fill="#45862a" opacity="1"/>
<rect x="121.8" y="505.3" width="1.20" height="7.70" fill="#45862a" opacity="1"/>
<rect x="245.8" y="505.3" width="1.20" height="9.70" fill="#45862a" opacity="1"/>
<path d="M81.8 516 V525 M121.9 513 V525 M129.6 526 V534.7 M139 516 V525 M145.4 516 V525 M212.8 516 V525.5 M269.2 516 V525.5" stroke="#d43a3a" stroke-width="0.8" opacity="0.85"/>
<path d="M71.5 548.4 H72.4 M79.6 548.4 H81.0 M83.7 548.4 H84.8 M87.7 548.4 H89.0 M92.0 548.4 H92.6 M97.8 548.4 H98.7 M102.5 548.4 H103.2 M107.0 548.4 H107.8 M109.8 548.4 H110.7 M114.4 548.4 H115.3 M120.4 548.4 H121.7 M124.7 548.4 H126.0 M129.3 548.4 H129.9 M134.5 548.4 H135.8 M140.8 548.4 H141.9 M145.4 548.4 H146.7 M152.0 548.4 H153.3 M157.2 548.4 H158.1 M163.1 548.4 H163.9 M167.0 548.4 H168.1 M172.3 548.4 H173.3 M175.3 548.4 H176.2 M180.8 548.4 H182.0 M187.3 548.4 H188.6 M193.5 548.4 H194.2 M196.9 548.4 H197.9 M201.1 548.4 H202.5 M204.6 548.4 H205.2 M208.9 548.4 H210.1 M213.2 548.4 H213.7 M219.0 548.4 H219.8 M221.9 548.4 H223.2 M228.6 548.4 H229.7 M232.4 548.4 H233.3 M237.2 548.4 H238.2 M240.7 548.4 H241.4 M245.1 548.4 H246.4 M249.2 548.4 H250.4 M253.2 548.4 H254.0 M256.2 548.4 H256.8 M259.6 548.4 H260.3 M264.0 548.4 H265.0 M269.6 548.4 H271.0 M276.9 548.4 H277.7 M280.2 548.4 H280.9 M285.7 548.4 H286.0" stroke="#111" stroke-width="0.8" opacity="0.9" fill="none"/>
<path d="M75.7 548.4 v-1.0 M78.5 548.4 v-1.3 M80.6 548.4 v-1.9 M84.4 548.4 v-1.5 M92.0 548.4 v-1.2 M93.4 548.4 v-1.2 M95.8 548.4 v-1.4 M97.5 548.4 v-1.8 M104.8 548.4 v-0.5 M114.1 548.4 v-1.4 M116.2 548.4 v-1.7 M131.4 548.4 v-0.5 M132.3 548.4 v-1.3 M137.1 548.4 v-1.3 M138.3 548.4 v-1.4 M139.3 548.4 v-1.0 M142.2 548.4 v-2.0 M149.2 548.4 v-2.0 M150.9 548.4 v-1.2 M153.5 548.4 v-1.9 M154.8 548.4 v-1.6 M157.2 548.4 v-2.0 M158.9 548.4 v-1.9 M162.5 548.4 v-1.0 M171.1 548.4 v-1.8 M171.9 548.4 v-1.3 M173.1 548.4 v-0.5 M174.8 548.4 v-1.0 M180.1 548.4 v-1.9 M182.4 548.4 v-0.8 M183.9 548.4 v-0.5 M185.1 548.4 v-0.9 M193.5 548.4 v-1.8 M195.1 548.4 v-1.7 M208.7 548.4 v-0.9 M210.7 548.4 v-0.8 M213.9 548.4 v-1.6 M220.4 548.4 v-1.1 M227.5 548.4 v-1.9 M231.5 548.4 v-0.8 M233.4 548.4 v-1.1 M240.1 548.4 v-0.9 M243.0 548.4 v-1.7 M255.4 548.4 v-0.6 M259.9 548.4 v-1.7 M261.1 548.4 v-1.5 M266.1 548.4 v-1.4" stroke="#111" stroke-width="0.8" opacity="0.9" fill="none"/>
<path d="M89 548.4 V545 M95 548.4 V546 M112 548.4 V545 M115 548.4 V540 M117 548.4 V536.5 M118.5 548.4 V541 M120 548.4 V542 M123 548.4 V544 M134 548.4 V543 M140 548.4 V545 M143 548.4 V542 M146 548.4 V544 M150 548.4 V540 M155 548.4 V538 M158 548.4 V545 M175 548.4 V546 M190 548.4 V545.5 M200 548.4 V545 M214 548.4 V544.5 M222 548.4 V543 M226 548.4 V543 M230 548.4 V545 M246.3 548.4 V536.2 M248 548.4 V542 M250.5 548.4 V545 M259 548.4 V545 M271 548.4 V545 M280 548.4 V544.5" stroke="#111" stroke-width="0.9" opacity="1" fill="none"/>
<path d="M116.4 553.3 H288" stroke="#8c94d0" stroke-width="0.8"/>
<path d="M116 548.30 H117.6 V558.30 H116Z M139.80 549.50 h0.8 v7.60 h-0.8Z M152.60 549.50 h0.8 v7.60 h-0.8Z M156.60 549.50 h0.8 v7.60 h-0.8Z M184.60 549.50 h0.8 v7.60 h-0.8Z M197.60 549.50 h0.8 v7.60 h-0.8Z M201.60 549.50 h0.8 v7.60 h-0.8Z M204.60 549.50 h0.8 v7.60 h-0.8Z M213.60 549.50 h0.8 v7.60 h-0.8Z M215.60 549.50 h0.8 v7.60 h-0.8Z M218.60 549.50 h0.8 v7.60 h-0.8Z M221.10 549.50 h0.8 v7.60 h-0.8Z M224.60 549.50 h0.8 v7.60 h-0.8Z M227.60 549.50 h0.8 v7.60 h-0.8Z M230.60 549.50 h0.8 v7.60 h-0.8Z M233.10 549.50 h0.8 v7.60 h-0.8Z M235.60 549.50 h0.8 v7.60 h-0.8Z M240.60 549.50 h0.8 v7.60 h-0.8Z M243.60 549.50 h0.8 v7.60 h-0.8Z M246.60 549.50 h0.8 v7.60 h-0.8Z M265.10 549.50 h0.8 v7.60 h-0.8Z M267.40 549.50 h0.8 v7.60 h-0.8Z M275.60 549.50 h0.8 v7.60 h-0.8Z M277.10 549.50 h0.8 v7.60 h-0.8Z M278.60 549.50 h0.8 v7.60 h-0.8Z M280.10 549.50 h0.8 v7.60 h-0.8Z M281.60 549.50 h0.8 v7.60 h-0.8Z M283.10 549.50 h0.8 v7.60 h-0.8Z M284.60 549.50 h0.8 v7.60 h-0.8Z M286.2 549.30 H287.8 V557.30 H286.2Z" fill="#262690"/>
<text x="78.2" y="558.5" font-size="10.2" font-style="italic" fill="#262690" stroke="#262690" stroke-width="0.2" text-anchor="start">Plxnc1</text>
<path d="M228.9 455.0 H284.6" stroke="#111" stroke-width="1.2"/>
<path d="M226.6 455.0 L228.9 452.5 L231.20000000000002 455.0 L228.9 457.5Z" fill="#111"/>
<path d="M282.3 455.0 L284.6 452.5 L286.90000000000003 455.0 L284.6 457.5Z" fill="#111"/>
<text x="259.7" y="464.3" font-size="7.4" fill="#222" text-anchor="middle"  stroke="#222" stroke-width="0.15">50kb</text>
<rect x="68.5" y="449.5" width="220.50" height="115.80" fill="none" stroke="#1c1c1c" stroke-width="1.25"/>
<path d="M294.9 482.7 H307.8 M309.2 482.7 H314.3 M317.3 482.7 H325.6 M327.4 482.7 H336.2 M354.6 482.7 H364.1 M366.2 482.7 H380.3 M434.0 482.7 H448.5 M450.5 482.7 H463.6 M466.1 482.7 H475.1 M476.8 482.7 H482.4 M483.6 482.7 H492.3 M509.3 482.7 H509.4" stroke="#303078" stroke-width="0.65" opacity="0.8" fill="none"/>
<path d="M296.8 482.7 v-1.4 M299.0 482.7 v-0.6 M304.3 482.7 v-1.0 M308.5 482.7 v-0.7 M309.7 482.7 v-0.5 M311.1 482.7 v-1.3 M314.2 482.7 v-0.8 M322.5 482.7 v-0.9 M326.0 482.7 v-0.5 M330.6 482.7 v-0.8 M345.1 482.7 v-0.8 M347.1 482.7 v-0.6 M354.5 482.7 v-0.9 M374.7 482.7 v-1.3 M379.5 482.7 v-1.0 M383.8 482.7 v-1.1 M385.5 482.7 v-1.0 M387.6 482.7 v-1.3 M388.7 482.7 v-0.5 M390.6 482.7 v-1.3 M392.0 482.7 v-1.2 M393.3 482.7 v-0.4 M396.9 482.7 v-1.3 M425.2 482.7 v-1.1 M428.7 482.7 v-0.8 M444.0 482.7 v-1.0 M447.4 482.7 v-1.3 M457.3 482.7 v-1.0 M461.7 482.7 v-0.7 M463.6 482.7 v-1.2 M468.1 482.7 v-0.6 M472.6 482.7 v-1.3 M497.6 482.7 v-0.9" stroke="#303078" stroke-width="0.8" opacity="0.8" fill="none"/>
<path d="M299.40 482.7 L299.67 480.5 L300.33 480.5 L300.60 482.7Z M317.40 482.7 L317.67 480.8 L318.33 480.8 L318.60 482.7Z M321.40 482.7 L321.67 480.3 L322.33 480.3 L322.60 482.7Z M326.10 482.7 L326.42 474 L327.19 474 L327.50 482.7Z M328.30 482.7 L328.62 478 L329.38 478 L329.70 482.7Z M330.30 482.7 L330.75 466 L331.85 466 L332.30 482.7Z M332.20 482.7 L332.56 474 L333.44 474 L333.80 482.7Z M334.30 482.7 L334.62 476 L335.38 476 L335.70 482.7Z M336.80 482.7 L337.12 476.5 L337.88 476.5 L338.20 482.7Z M339.40 482.7 L339.67 478 L340.33 478 L340.60 482.7Z M340.70 482.7 L340.97 475.5 L341.63 475.5 L341.90 482.7Z M353.40 482.7 L353.67 477 L354.33 477 L354.60 482.7Z M361.40 482.7 L361.67 480 L362.33 480 L362.60 482.7Z M370.60 482.7 L370.96 469.3 L371.84 469.3 L372.20 482.7Z M388.40 482.7 L388.67 480.2 L389.33 480.2 L389.60 482.7Z M397.40 482.7 L397.67 480.6 L398.33 480.6 L398.60 482.7Z M415.40 482.7 L415.67 480.5 L416.33 480.5 L416.60 482.7Z M435.40 482.7 L435.67 480.5 L436.33 480.5 L436.60 482.7Z M458.40 482.7 L458.67 480 L459.33 480 L459.60 482.7Z M461.70 482.7 L462.06 473.8 L462.94 473.8 L463.30 482.7Z M466.30 482.7 L466.62 478.2 L467.38 478.2 L467.70 482.7Z M471.40 482.7 L471.67 480.5 L472.33 480.5 L472.60 482.7Z M489.40 482.7 L489.67 480.8 L490.33 480.8 L490.60 482.7Z" fill="#303078"/>
<path d="M294.9 503.9 H297.5 M298.8 503.9 H303.9 M304.9 503.9 H307.2 M307.8 503.9 H312.5 M313.0 503.9 H319.5 M320.4 503.9 H326.3 M327.0 503.9 H333.9 M335.3 503.9 H339.4 M340.9 503.9 H343.2 M344.4 503.9 H351.2 M352.0 503.9 H354.7 M355.4 503.9 H359.1 M359.8 503.9 H362.8 M363.9 503.9 H370.4 M371.8 503.9 H375.8 M377.4 503.9 H380.3 M381.4 503.9 H385.7 M387.0 503.9 H389.7 M391.1 503.9 H395.2 M395.9 503.9 H401.0 M401.7 503.9 H405.2 M406.5 503.9 H411.3 M412.1 503.9 H414.4 M415.5 503.9 H421.6 M422.4 503.9 H425.2 M426.4 503.9 H431.2 M431.8 503.9 H435.2 M435.9 503.9 H442.8 M443.5 503.9 H445.5 M446.1 503.9 H451.4 M465.6 503.9 H471.8 M472.5 503.9 H478.5 M480.1 503.9 H483.1 M483.6 503.9 H486.2 M487.7 503.9 H493.5 M494.4 503.9 H499.2 M499.7 503.9 H502.7 M503.2 503.9 H509.4" stroke="#45862a" stroke-width="0.75" opacity="0.9" fill="none"/>
<path d="M294.9 503.9 v-1.7 M296.9 503.9 v-2.4 M299.0 503.9 v-1.7 M301.1 503.9 v-2.6 M302.6 503.9 v-0.7 M304.0 503.9 v-0.9 M306.2 503.9 v-1.7 M308.0 503.9 v-2.0 M311.1 503.9 v-1.7 M312.5 503.9 v-1.7 M314.4 503.9 v-0.9 M315.4 503.9 v-0.9 M317.5 503.9 v-1.4 M319.4 503.9 v-0.7 M322.8 503.9 v-1.5 M324.1 503.9 v-0.7 M328.6 503.9 v-1.3 M329.7 503.9 v-1.5 M332.2 503.9 v-2.4 M335.5 503.9 v-0.9 M337.4 503.9 v-1.6 M338.2 503.9 v-1.4 M339.3 503.9 v-2.4 M341.4 503.9 v-1.2 M342.7 503.9 v-1.3 M344.8 503.9 v-1.3 M346.4 503.9 v-1.2 M348.2 503.9 v-0.8 M350.3 503.9 v-2.0 M352.4 503.9 v-2.1 M354.2 503.9 v-2.4 M355.2 503.9 v-2.6 M358.1 503.9 v-1.5 M362.8 503.9 v-2.2 M364.7 503.9 v-1.7 M367.2 503.9 v-1.8 M368.4 503.9 v-2.2 M372.2 503.9 v-1.6 M373.2 503.9 v-2.4 M376.4 503.9 v-0.9 M379.8 503.9 v-2.1 M381.6 503.9 v-0.8 M383.9 503.9 v-1.5 M385.0 503.9 v-0.8 M386.1 503.9 v-1.4 M387.3 503.9 v-0.9 M388.7 503.9 v-1.1 M390.5 503.9 v-0.8 M394.1 503.9 v-0.9 M399.3 503.9 v-1.2 M401.0 503.9 v-2.0 M404.1 503.9 v-1.4 M406.1 503.9 v-1.4 M407.7 503.9 v-1.9 M408.7 503.9 v-1.2 M413.9 503.9 v-1.4 M415.4 503.9 v-0.9 M420.9 503.9 v-1.7 M423.8 503.9 v-1.2 M425.8 503.9 v-0.7 M427.5 503.9 v-0.7 M429.5 503.9 v-0.9 M431.1 503.9 v-1.2 M434.1 503.9 v-2.2 M440.8 503.9 v-0.9 M444.0 503.9 v-0.9 M445.1 503.9 v-0.8 M446.0 503.9 v-1.8 M448.0 503.9 v-1.2 M450.9 503.9 v-1.5 M452.7 503.9 v-1.5 M454.2 503.9 v-0.6 M455.3 503.9 v-0.8 M457.3 503.9 v-0.5 M459.0 503.9 v-2.1 M464.1 503.9 v-1.4 M465.2 503.9 v-1.3 M466.6 503.9 v-0.9 M469.5 503.9 v-1.8 M471.2 503.9 v-2.2 M476.6 503.9 v-0.9 M477.8 503.9 v-1.1 M479.0 503.9 v-0.7 M480.6 503.9 v-2.2 M484.5 503.9 v-1.9 M486.6 503.9 v-0.8 M487.4 503.9 v-2.5 M489.4 503.9 v-0.5 M491.6 503.9 v-1.3 M493.0 503.9 v-2.5 M493.9 503.9 v-2.0 M495.8 503.9 v-1.1 M496.6 503.9 v-1.7 M498.7 503.9 v-1.8 M502.2 503.9 v-1.9 M503.7 503.9 v-2.4 M504.6 503.9 v-2.4 M506.2 503.9 v-0.9 M509.3 503.9 v-2.5" stroke="#45862a" stroke-width="0.8" opacity="0.9" fill="none"/>
<path d="M297 503.9 V499 M300 503.9 V499.5 M305 503.9 V498 M309 503.9 V497.5 M313 503.9 V499 M317 503.9 V499.5 M322 503.9 V497.5 M326 503.9 V498 M330 503.9 V496 M333.5 503.9 V489.5 M337 503.9 V496.5 M342 503.9 V498.5 M346 503.9 V499 M350 503.9 V497 M355 503.9 V498.5 M360 503.9 V499 M364 503.9 V497 M371.4 503.9 V490 M375 503.9 V497 M380 503.9 V498.5 M386 503.9 V496 M392 503.9 V498.5 M396 503.9 V497 M403 503.9 V496.5 M408 503.9 V498 M414 503.9 V496.5 M419 503.9 V495.2 M424 503.9 V498 M428 503.9 V496 M434 503.9 V499 M440 503.9 V498 M446 503.9 V499 M452 503.9 V497.5 M457 503.9 V498.6 M462 503.9 V499 M468 503.9 V497.5 M473 503.9 V498.8 M480 503.9 V498 M487 503.9 V496.5 M492 503.9 V498.5 M497 503.9 V499 M505 503.9 V496.5 M508 503.9 V497.5" stroke="#6a9a50" stroke-width="0.8" opacity="0.8" fill="none"/>
<rect x="333.0" y="503.9" width="1.10" height="11.60" fill="#45862a" opacity="0.8"/>
<path d="M371.4 516.2 V536.2 M471 516.2 V537.3" stroke="#d43a3a" stroke-width="1.0" opacity="0.9"/>
<path d="M294.9 549.6 H295.7 M300.9 549.6 H302.0 M306.9 549.6 H307.5 M310.3 549.6 H311.4 M316.3 549.6 H316.9 M319.5 549.6 H320.7 M324.7 549.6 H325.7 M329.3 549.6 H329.9 M334.6 549.6 H335.6 M343.3 549.6 H344.6 M347.3 549.6 H348.1 M352.8 549.6 H353.5 M356.9 549.6 H358.2 M365.6 549.6 H366.7 M375.5 549.6 H376.7 M379.8 549.6 H381.0 M385.0 549.6 H386.0 M391.3 549.6 H392.6 M396.4 549.6 H397.0 M400.5 549.6 H401.6 M404.4 549.6 H405.1 M409.1 549.6 H410.3 M413.8 549.6 H414.4 M417.7 549.6 H418.4 M420.8 549.6 H421.7 M426.8 549.6 H427.4 M430.5 549.6 H431.4 M435.6 549.6 H436.1 M440.0 549.6 H440.7 M445.2 549.6 H445.8 M450.8 549.6 H452.1 M455.3 549.6 H455.9 M461.1 549.6 H462.2 M466.8 549.6 H468.1 M472.3 549.6 H473.6 M478.4 549.6 H479.4 M484.3 549.6 H485.0 M489.0 549.6 H489.8 M491.8 549.6 H492.7 M496.2 549.6 H496.9 M501.0 549.6 H501.5 M505.3 549.6 H506.2 M508.6 549.6 H509.2" stroke="#111" stroke-width="0.8" opacity="0.9" fill="none"/>
<path d="M296.5 549.6 v-0.7 M307.6 549.6 v-0.9 M308.4 549.6 v-1.6 M313.8 549.6 v-1.0 M325.2 549.6 v-1.3 M340.5 549.6 v-0.9 M342.0 549.6 v-1.0 M343.3 549.6 v-1.2 M344.7 549.6 v-1.1 M348.7 549.6 v-0.9 M369.5 549.6 v-1.0 M370.8 549.6 v-0.9 M374.3 549.6 v-1.1 M386.4 549.6 v-1.0 M392.8 549.6 v-1.4 M393.7 549.6 v-1.6 M399.7 549.6 v-1.4 M402.7 549.6 v-0.8 M408.6 549.6 v-0.8 M420.1 549.6 v-1.5 M423.0 549.6 v-1.3 M424.3 549.6 v-1.6 M426.4 549.6 v-0.7 M427.9 549.6 v-1.6 M431.7 549.6 v-1.3 M439.8 549.6 v-0.7 M444.0 549.6 v-0.6 M452.1 549.6 v-1.6 M457.6 549.6 v-0.9 M471.5 549.6 v-1.2 M473.5 549.6 v-1.5 M484.1 549.6 v-1.4 M485.6 549.6 v-1.6 M486.8 549.6 v-1.4 M492.5 549.6 v-1.1 M495.7 549.6 v-0.9 M496.8 549.6 v-0.8 M498.6 549.6 v-1.1 M500.4 549.6 v-1.5 M502.2 549.6 v-0.6" stroke="#111" stroke-width="0.8" opacity="0.9" fill="none"/>
<path d="M324.6 549.6 V545 M326 549.6 V541 M327.5 549.6 V537.3 M329 549.6 V541 M330.5 549.6 V539 M332 549.6 V542 M333.5 549.6 V538 M335 549.6 V540 M336.5 549.6 V543 M338 549.6 V541 M339.5 549.6 V544 M341 549.6 V545.5 M342.4 549.6 V546.5 M371.4 549.6 V545.5 M397 549.6 V547 M420 549.6 V547 M430 549.6 V546.5 M436 549.6 V547 M471 549.6 V544.8 M486 549.6 V547 M495 549.6 V547.2 M505 549.6 V547.5" stroke="#111" stroke-width="1.0" opacity="1" fill="none"/>
<path d="M342.4 556.3 H512" stroke="#a8aedb" stroke-width="0.9"/>
<path d="M347.2 554.9 L346.0 556.3 L347.2 557.7 M353.8 554.9 L352.6 556.3 L353.8 557.7 M360.4 554.9 L359.2 556.3 L360.4 557.7 M367.0 554.9 L365.8 556.3 L367.0 557.7 M373.6 554.9 L372.4 556.3 L373.6 557.7 M380.2 554.9 L379.0 556.3 L380.2 557.7 M386.8 554.9 L385.6 556.3 L386.8 557.7 M393.4 554.9 L392.2 556.3 L393.4 557.7 M400.0 554.9 L398.8 556.3 L400.0 557.7 M406.6 554.9 L405.4 556.3 L406.6 557.7 M413.2 554.9 L412.0 556.3 L413.2 557.7 M419.8 554.9 L418.6 556.3 L419.8 557.7 M426.4 554.9 L425.2 556.3 L426.4 557.7 M433.0 554.9 L431.8 556.3 L433.0 557.7 M439.6 554.9 L438.4 556.3 L439.6 557.7 M446.2 554.9 L445.0 556.3 L446.2 557.7 M452.8 554.9 L451.6 556.3 L452.8 557.7 M459.4 554.9 L458.2 556.3 L459.4 557.7 M466.0 554.9 L464.8 556.3 L466.0 557.7 M472.6 554.9 L471.4 556.3 L472.6 557.7 M479.2 554.9 L478.0 556.3 L479.2 557.7 M485.8 554.9 L484.6 556.3 L485.8 557.7 M492.4 554.9 L491.2 556.3 L492.4 557.7 M499.0 554.9 L497.8 556.3 L499.0 557.7 M505.6 554.9 L504.4 556.3 L505.6 557.7" stroke="#a8aedb" stroke-width="0.6" fill="none"/>
<path d="M334.6 553.8 H337 V551.8 H342.4 V559.6 H337 V558.0 H334.6Z" fill="#262690"/>
<text x="301.6" y="559.3" font-size="10.3" font-style="italic" fill="#262690" stroke="#262690" stroke-width="0.2" text-anchor="start">Pcdh7</text>
<path d="M381.2 454.8 H507.5" stroke="#111" stroke-width="1.2"/>
<path d="M378.9 454.8 L381.2 452.3 L383.5 454.8 L381.2 457.3Z" fill="#111"/>
<path d="M505.2 454.8 L507.5 452.3 L509.8 454.8 L507.5 457.3Z" fill="#111"/>
<text x="449.1" y="464.0" font-size="7.4" fill="#222" text-anchor="middle"  stroke="#222" stroke-width="0.15">50kb</text>
<rect x="291.9" y="449.5" width="220.50" height="115.80" fill="none" stroke="#1c1c1c" stroke-width="1.25"/>
</svg>
</body></html>
